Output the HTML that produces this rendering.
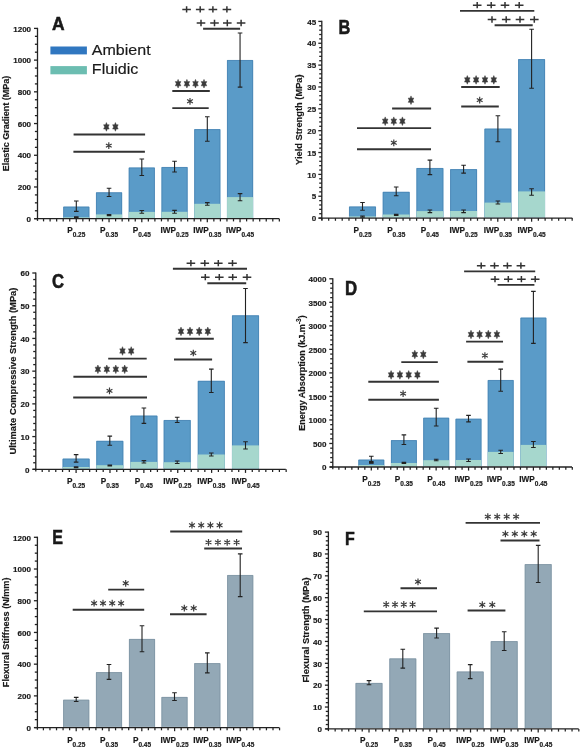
<!DOCTYPE html>
<html><head><meta charset="utf-8"><style>
html,body{margin:0;padding:0;background:#fff;}
svg{display:block;will-change:transform;}
text{font-family:"Liberation Sans",sans-serif;font-weight:bold;fill:#1a1a1a;stroke:#1a1a1a;stroke-width:0.18px;}
</style></head><body>
<svg width="582" height="750" viewBox="0 0 582 750">
<rect width="582" height="750" fill="#fff"/>
<rect x="63.3" y="206.7" width="26" height="11.3" fill="#5a9bc8"/>
<path d="M63.65 218V207.05H88.95V218" fill="none" stroke="#437fb0" stroke-width="0.7"/>
<rect x="63.3" y="217.3" width="26" height="0.7" fill="#a6d7cd"/>
<rect x="96.05" y="192.4" width="26" height="25.6" fill="#5a9bc8"/>
<path d="M96.4 218V192.75H121.7V218" fill="none" stroke="#437fb0" stroke-width="0.7"/>
<rect x="96.05" y="214.4" width="26" height="3.6" fill="#a6d7cd"/>
<rect x="128.8" y="167.6" width="26" height="50.4" fill="#5a9bc8"/>
<path d="M129.15 218V167.95H154.45V218" fill="none" stroke="#437fb0" stroke-width="0.7"/>
<rect x="128.8" y="211.9" width="26" height="6.1" fill="#a6d7cd"/>
<rect x="161.55" y="167.1" width="26" height="50.9" fill="#5a9bc8"/>
<path d="M161.9 218V167.45H187.2V218" fill="none" stroke="#437fb0" stroke-width="0.7"/>
<rect x="161.55" y="211.8" width="26" height="6.2" fill="#a6d7cd"/>
<rect x="194.3" y="129.2" width="26" height="88.8" fill="#5a9bc8"/>
<path d="M194.65 218V129.55H219.95V218" fill="none" stroke="#437fb0" stroke-width="0.7"/>
<rect x="194.3" y="203.8" width="26" height="14.2" fill="#a6d7cd"/>
<rect x="227.05" y="60.1" width="26" height="157.9" fill="#5a9bc8"/>
<path d="M227.4 218V60.45H252.7V218" fill="none" stroke="#437fb0" stroke-width="0.7"/>
<rect x="227.05" y="197.1" width="26" height="20.9" fill="#a6d7cd"/>
<path d="M76.3 201V211.4M74 201H78.6M74 211.4H78.6" stroke="#222" stroke-width="1.1" fill="none"/>
<path d="M109.05 188.3V196.5M106.75 188.3H111.35M106.75 196.5H111.35" stroke="#222" stroke-width="1.1" fill="none"/>
<path d="M141.8 159V175.5M139.5 159H144.1M139.5 175.5H144.1" stroke="#222" stroke-width="1.1" fill="none"/>
<path d="M174.55 161.2V172M172.25 161.2H176.85M172.25 172H176.85" stroke="#222" stroke-width="1.1" fill="none"/>
<path d="M207.3 116.7V141.3M205 116.7H209.6M205 141.3H209.6" stroke="#222" stroke-width="1.1" fill="none"/>
<path d="M240.05 33V87.1M237.75 33H242.35M237.75 87.1H242.35" stroke="#222" stroke-width="1.1" fill="none"/>
<path d="M76.3 216.7V217.7M74 216.7H78.6M74 217.7H78.6" stroke="#222" stroke-width="1.1" fill="none"/>
<path d="M109.05 214.6V215.6M106.75 214.6H111.35M106.75 215.6H111.35" stroke="#222" stroke-width="1.1" fill="none"/>
<path d="M141.8 210.5V213.3M139.5 210.5H144.1M139.5 213.3H144.1" stroke="#222" stroke-width="1.1" fill="none"/>
<path d="M174.55 210.4V213.3M172.25 210.4H176.85M172.25 213.3H176.85" stroke="#222" stroke-width="1.1" fill="none"/>
<path d="M207.3 202.6V205.3M205 202.6H209.6M205 205.3H209.6" stroke="#222" stroke-width="1.1" fill="none"/>
<path d="M240.05 193.6V200.7M237.75 193.6H242.35M237.75 200.7H242.35" stroke="#222" stroke-width="1.1" fill="none"/>
<line x1="37.5" y1="27.8" x2="37.5" y2="220.9" stroke="#222" stroke-width="1.3"/>
<line x1="34" y1="218.7" x2="37.5" y2="218.7" stroke="#222" stroke-width="1.3"/>
<text x="31.1" y="221.9" font-size="8.05" text-anchor="end">0</text>
<line x1="34.9" y1="210.77" x2="37.5" y2="210.77" stroke="#222" stroke-width="1.3"/>
<line x1="34.9" y1="202.84" x2="37.5" y2="202.84" stroke="#222" stroke-width="1.3"/>
<line x1="34.9" y1="194.91" x2="37.5" y2="194.91" stroke="#222" stroke-width="1.3"/>
<line x1="34" y1="186.98" x2="37.5" y2="186.98" stroke="#222" stroke-width="1.3"/>
<text x="31.1" y="190.18" font-size="8.05" text-anchor="end">200</text>
<line x1="34.9" y1="179.05" x2="37.5" y2="179.05" stroke="#222" stroke-width="1.3"/>
<line x1="34.9" y1="171.12" x2="37.5" y2="171.12" stroke="#222" stroke-width="1.3"/>
<line x1="34.9" y1="163.2" x2="37.5" y2="163.2" stroke="#222" stroke-width="1.3"/>
<line x1="34" y1="155.27" x2="37.5" y2="155.27" stroke="#222" stroke-width="1.3"/>
<text x="31.1" y="158.47" font-size="8.05" text-anchor="end">400</text>
<line x1="34.9" y1="147.34" x2="37.5" y2="147.34" stroke="#222" stroke-width="1.3"/>
<line x1="34.9" y1="139.41" x2="37.5" y2="139.41" stroke="#222" stroke-width="1.3"/>
<line x1="34.9" y1="131.48" x2="37.5" y2="131.48" stroke="#222" stroke-width="1.3"/>
<line x1="34" y1="123.55" x2="37.5" y2="123.55" stroke="#222" stroke-width="1.3"/>
<text x="31.1" y="126.75" font-size="8.05" text-anchor="end">600</text>
<line x1="34.9" y1="115.62" x2="37.5" y2="115.62" stroke="#222" stroke-width="1.3"/>
<line x1="34.9" y1="107.69" x2="37.5" y2="107.69" stroke="#222" stroke-width="1.3"/>
<line x1="34.9" y1="99.76" x2="37.5" y2="99.76" stroke="#222" stroke-width="1.3"/>
<line x1="34" y1="91.83" x2="37.5" y2="91.83" stroke="#222" stroke-width="1.3"/>
<text x="31.1" y="95.03" font-size="8.05" text-anchor="end">800</text>
<line x1="34.9" y1="83.9" x2="37.5" y2="83.9" stroke="#222" stroke-width="1.3"/>
<line x1="34.9" y1="75.98" x2="37.5" y2="75.98" stroke="#222" stroke-width="1.3"/>
<line x1="34.9" y1="68.05" x2="37.5" y2="68.05" stroke="#222" stroke-width="1.3"/>
<line x1="34" y1="60.12" x2="37.5" y2="60.12" stroke="#222" stroke-width="1.3"/>
<text x="31.1" y="63.32" font-size="8.05" text-anchor="end">1000</text>
<line x1="34.9" y1="52.19" x2="37.5" y2="52.19" stroke="#222" stroke-width="1.3"/>
<line x1="34.9" y1="44.26" x2="37.5" y2="44.26" stroke="#222" stroke-width="1.3"/>
<line x1="34.9" y1="36.33" x2="37.5" y2="36.33" stroke="#222" stroke-width="1.3"/>
<line x1="34" y1="28.4" x2="37.5" y2="28.4" stroke="#222" stroke-width="1.3"/>
<text x="31.1" y="31.6" font-size="8.05" text-anchor="end">1200</text>
<line x1="34.5" y1="218.7" x2="279.3" y2="218.7" stroke="#222" stroke-width="1.3"/>
<line x1="43.55" y1="218.7" x2="43.55" y2="221.4" stroke="#222" stroke-width="1.25"/>
<line x1="50.1" y1="218.7" x2="50.1" y2="221.4" stroke="#222" stroke-width="1.25"/>
<line x1="56.65" y1="218.7" x2="56.65" y2="221.4" stroke="#222" stroke-width="1.25"/>
<line x1="63.2" y1="218.7" x2="63.2" y2="221.4" stroke="#222" stroke-width="1.25"/>
<line x1="69.75" y1="218.7" x2="69.75" y2="221.4" stroke="#222" stroke-width="1.25"/>
<line x1="76.3" y1="218.7" x2="76.3" y2="222.3" stroke="#222" stroke-width="1.25"/>
<line x1="82.85" y1="218.7" x2="82.85" y2="221.4" stroke="#222" stroke-width="1.25"/>
<line x1="89.4" y1="218.7" x2="89.4" y2="221.4" stroke="#222" stroke-width="1.25"/>
<line x1="95.95" y1="218.7" x2="95.95" y2="221.4" stroke="#222" stroke-width="1.25"/>
<line x1="102.5" y1="218.7" x2="102.5" y2="221.4" stroke="#222" stroke-width="1.25"/>
<line x1="109.05" y1="218.7" x2="109.05" y2="222.3" stroke="#222" stroke-width="1.25"/>
<line x1="115.6" y1="218.7" x2="115.6" y2="221.4" stroke="#222" stroke-width="1.25"/>
<line x1="122.15" y1="218.7" x2="122.15" y2="221.4" stroke="#222" stroke-width="1.25"/>
<line x1="128.7" y1="218.7" x2="128.7" y2="221.4" stroke="#222" stroke-width="1.25"/>
<line x1="135.25" y1="218.7" x2="135.25" y2="221.4" stroke="#222" stroke-width="1.25"/>
<line x1="141.8" y1="218.7" x2="141.8" y2="222.3" stroke="#222" stroke-width="1.25"/>
<line x1="148.35" y1="218.7" x2="148.35" y2="221.4" stroke="#222" stroke-width="1.25"/>
<line x1="154.9" y1="218.7" x2="154.9" y2="221.4" stroke="#222" stroke-width="1.25"/>
<line x1="161.45" y1="218.7" x2="161.45" y2="221.4" stroke="#222" stroke-width="1.25"/>
<line x1="168" y1="218.7" x2="168" y2="221.4" stroke="#222" stroke-width="1.25"/>
<line x1="174.55" y1="218.7" x2="174.55" y2="222.3" stroke="#222" stroke-width="1.25"/>
<line x1="181.1" y1="218.7" x2="181.1" y2="221.4" stroke="#222" stroke-width="1.25"/>
<line x1="187.65" y1="218.7" x2="187.65" y2="221.4" stroke="#222" stroke-width="1.25"/>
<line x1="194.2" y1="218.7" x2="194.2" y2="221.4" stroke="#222" stroke-width="1.25"/>
<line x1="200.75" y1="218.7" x2="200.75" y2="221.4" stroke="#222" stroke-width="1.25"/>
<line x1="207.3" y1="218.7" x2="207.3" y2="222.3" stroke="#222" stroke-width="1.25"/>
<line x1="213.85" y1="218.7" x2="213.85" y2="221.4" stroke="#222" stroke-width="1.25"/>
<line x1="220.4" y1="218.7" x2="220.4" y2="221.4" stroke="#222" stroke-width="1.25"/>
<line x1="226.95" y1="218.7" x2="226.95" y2="221.4" stroke="#222" stroke-width="1.25"/>
<line x1="233.5" y1="218.7" x2="233.5" y2="221.4" stroke="#222" stroke-width="1.25"/>
<line x1="240.05" y1="218.7" x2="240.05" y2="222.3" stroke="#222" stroke-width="1.25"/>
<line x1="246.6" y1="218.7" x2="246.6" y2="221.4" stroke="#222" stroke-width="1.25"/>
<line x1="253.15" y1="218.7" x2="253.15" y2="221.4" stroke="#222" stroke-width="1.25"/>
<line x1="259.7" y1="218.7" x2="259.7" y2="221.4" stroke="#222" stroke-width="1.25"/>
<line x1="266.25" y1="218.7" x2="266.25" y2="221.4" stroke="#222" stroke-width="1.25"/>
<line x1="272.8" y1="218.7" x2="272.8" y2="221.4" stroke="#222" stroke-width="1.25"/>
<line x1="279.35" y1="218.7" x2="279.35" y2="221.4" stroke="#222" stroke-width="1.25"/>
<text x="76.3" y="233.3" font-size="8.2" text-anchor="middle">P<tspan font-size="6.5" dy="4">0.25</tspan></text>
<text x="109.05" y="233.3" font-size="8.2" text-anchor="middle">P<tspan font-size="6.5" dy="4">0.35</tspan></text>
<text x="141.8" y="233.3" font-size="8.2" text-anchor="middle">P<tspan font-size="6.5" dy="4">0.45</tspan></text>
<text x="174.55" y="233.3" font-size="8.2" text-anchor="middle">IWP<tspan font-size="6.5" dy="4">0.25</tspan></text>
<text x="207.3" y="233.3" font-size="8.2" text-anchor="middle">IWP<tspan font-size="6.5" dy="4">0.35</tspan></text>
<text x="240.05" y="233.3" font-size="8.2" text-anchor="middle">IWP<tspan font-size="6.5" dy="4">0.45</tspan></text>
<text transform="translate(9.2 123.5) rotate(-90)" font-size="9.0" text-anchor="middle">Elastic Gradient (MPa)</text>
<text transform="translate(52.11 29.55) scale(0.8718 0.9520)" font-size="20.0" style="stroke:#111;stroke-width:0.55px">A</text>
<rect x="50.4" y="46.5" width="36.5" height="7.9" fill="#3077c0"/>
<rect x="50.4" y="66.1" width="36.5" height="8.2" fill="#6cbdb1"/>
<text x="91.8" y="55" font-size="15.2" textLength="58.8" lengthAdjust="spacingAndGlyphs" style="font-weight:normal">Ambient</text>
<text x="91.8" y="74.3" font-size="15.2" textLength="46.5" lengthAdjust="spacingAndGlyphs" style="font-weight:normal">Fluidic</text>
<line x1="73.6" y1="134.5" x2="145.1" y2="134.5" stroke="#333" stroke-width="1.9" stroke-linecap="butt"/>
<polygon points="106.4,122.6 105.52,124.85 103.63,124.75 104.64,126.9 103.63,129.05 105.52,128.95 106.4,131.2 107.28,128.95 109.17,129.05 108.16,126.9 109.17,124.75 107.28,124.85" fill="#3a3a3a" stroke="#3a3a3a" stroke-width="0.5" stroke-linejoin="round"/>
<polygon points="115.4,122.6 114.52,124.85 112.63,124.75 113.64,126.9 112.63,129.05 114.52,128.95 115.4,131.2 116.28,128.95 118.17,129.05 117.16,126.9 118.17,124.75 116.28,124.85" fill="#3a3a3a" stroke="#3a3a3a" stroke-width="0.5" stroke-linejoin="round"/>
<line x1="73.4" y1="151.7" x2="144.9" y2="151.7" stroke="#333" stroke-width="1.9" stroke-linecap="butt"/>
<path d="M108.8 142.25L108.8 148.95M105.9 143.92L111.7 147.28M105.9 147.28L111.7 143.92" stroke="#3a3a3a" stroke-width="1.15" stroke-linecap="butt"/>
<line x1="172.3" y1="91" x2="209.8" y2="91" stroke="#333" stroke-width="1.9" stroke-linecap="butt"/>
<polygon points="178.1,79.4 177.22,81.65 175.33,81.55 176.34,83.7 175.33,85.85 177.22,85.75 178.1,88 178.98,85.75 180.87,85.85 179.86,83.7 180.87,81.55 178.98,81.65" fill="#3a3a3a" stroke="#3a3a3a" stroke-width="0.5" stroke-linejoin="round"/>
<polygon points="186.9,79.4 186.02,81.65 184.13,81.55 185.14,83.7 184.13,85.85 186.02,85.75 186.9,88 187.78,85.75 189.67,85.85 188.66,83.7 189.67,81.55 187.78,81.65" fill="#3a3a3a" stroke="#3a3a3a" stroke-width="0.5" stroke-linejoin="round"/>
<polygon points="195.5,79.4 194.62,81.65 192.73,81.55 193.74,83.7 192.73,85.85 194.62,85.75 195.5,88 196.38,85.75 198.27,85.85 197.26,83.7 198.27,81.55 196.38,81.65" fill="#3a3a3a" stroke="#3a3a3a" stroke-width="0.5" stroke-linejoin="round"/>
<polygon points="204,79.4 203.12,81.65 201.23,81.55 202.24,83.7 201.23,85.85 203.12,85.75 204,88 204.88,85.75 206.77,85.85 205.76,83.7 206.77,81.55 204.88,81.65" fill="#3a3a3a" stroke="#3a3a3a" stroke-width="0.5" stroke-linejoin="round"/>
<line x1="172.3" y1="108.1" x2="208.7" y2="108.1" stroke="#333" stroke-width="1.9" stroke-linecap="butt"/>
<path d="M190 97.95L190 104.65M187.1 99.62L192.9 102.97M187.1 102.97L192.9 99.62" stroke="#3a3a3a" stroke-width="1.15" stroke-linecap="butt"/>
<path d="M182.3 9.4H190.9M186.6 6.25V12.55" stroke="#333" stroke-width="1.5"/>
<path d="M195.9 9.4H204.5M200.2 6.25V12.55" stroke="#333" stroke-width="1.5"/>
<path d="M208.6 9.4H217.2M212.9 6.25V12.55" stroke="#333" stroke-width="1.5"/>
<path d="M222.6 9.4H231.2M226.9 6.25V12.55" stroke="#333" stroke-width="1.5"/>
<path d="M196.7 23H205.3M201 19.85V26.15" stroke="#333" stroke-width="1.5"/>
<path d="M210.2 23H218.8M214.5 19.85V26.15" stroke="#333" stroke-width="1.5"/>
<path d="M223 23H231.6M227.3 19.85V26.15" stroke="#333" stroke-width="1.5"/>
<path d="M236.8 23H245.4M241.1 19.85V26.15" stroke="#333" stroke-width="1.5"/>
<line x1="203.1" y1="28.7" x2="240.1" y2="28.7" stroke="#333" stroke-width="1.9" stroke-linecap="butt"/>
<rect x="349.1" y="206.6" width="26.8" height="10.8" fill="#5a9bc8"/>
<path d="M349.45 217.4V206.95H375.55V217.4" fill="none" stroke="#437fb0" stroke-width="0.7"/>
<rect x="349.1" y="216.4" width="26.8" height="1" fill="#a6d7cd"/>
<rect x="382.8" y="191.9" width="26.8" height="25.5" fill="#5a9bc8"/>
<path d="M383.15 217.4V192.25H409.25V217.4" fill="none" stroke="#437fb0" stroke-width="0.7"/>
<rect x="382.8" y="214.5" width="26.8" height="2.9" fill="#a6d7cd"/>
<rect x="416.5" y="168.1" width="26.8" height="49.3" fill="#5a9bc8"/>
<path d="M416.85 217.4V168.45H442.95V217.4" fill="none" stroke="#437fb0" stroke-width="0.7"/>
<rect x="416.5" y="211.1" width="26.8" height="6.3" fill="#a6d7cd"/>
<rect x="450.2" y="169.2" width="26.8" height="48.2" fill="#5a9bc8"/>
<path d="M450.55 217.4V169.55H476.65V217.4" fill="none" stroke="#437fb0" stroke-width="0.7"/>
<rect x="450.2" y="211" width="26.8" height="6.4" fill="#a6d7cd"/>
<rect x="484.5" y="128.7" width="26.8" height="88.7" fill="#5a9bc8"/>
<path d="M484.85 217.4V129.05H510.95V217.4" fill="none" stroke="#437fb0" stroke-width="0.7"/>
<rect x="484.5" y="202.6" width="26.8" height="14.8" fill="#a6d7cd"/>
<rect x="518.2" y="59.2" width="26.8" height="158.2" fill="#5a9bc8"/>
<path d="M518.55 217.4V59.55H544.65V217.4" fill="none" stroke="#437fb0" stroke-width="0.7"/>
<rect x="518.2" y="191.4" width="26.8" height="26" fill="#a6d7cd"/>
<path d="M362.5 202.5V210.2M360.2 202.5H364.8M360.2 210.2H364.8" stroke="#222" stroke-width="1.1" fill="none"/>
<path d="M396.2 187V195.7M393.9 187H398.5M393.9 195.7H398.5" stroke="#222" stroke-width="1.1" fill="none"/>
<path d="M429.9 160.1V174.6M427.6 160.1H432.2M427.6 174.6H432.2" stroke="#222" stroke-width="1.1" fill="none"/>
<path d="M463.6 165.3V173.1M461.3 165.3H465.9M461.3 173.1H465.9" stroke="#222" stroke-width="1.1" fill="none"/>
<path d="M497.9 115.7V141.8M495.6 115.7H500.2M495.6 141.8H500.2" stroke="#222" stroke-width="1.1" fill="none"/>
<path d="M531.6 29.3V88.2M529.3 29.3H533.9M529.3 88.2H533.9" stroke="#222" stroke-width="1.1" fill="none"/>
<path d="M362.5 216V217.3M360.2 216H364.8M360.2 217.3H364.8" stroke="#222" stroke-width="1.1" fill="none"/>
<path d="M396.2 214.4V215.4M393.9 214.4H398.5M393.9 215.4H398.5" stroke="#222" stroke-width="1.1" fill="none"/>
<path d="M429.9 210V212.6M427.6 210H432.2M427.6 212.6H432.2" stroke="#222" stroke-width="1.1" fill="none"/>
<path d="M463.6 210V212.6M461.3 210H465.9M461.3 212.6H465.9" stroke="#222" stroke-width="1.1" fill="none"/>
<path d="M497.9 201V204M495.6 201H500.2M495.6 204H500.2" stroke="#222" stroke-width="1.1" fill="none"/>
<path d="M531.6 188.8V195.3M529.3 188.8H533.9M529.3 195.3H533.9" stroke="#222" stroke-width="1.1" fill="none"/>
<line x1="321.8" y1="20.8" x2="321.8" y2="220.3" stroke="#222" stroke-width="1.3"/>
<line x1="318.3" y1="218.1" x2="321.8" y2="218.1" stroke="#222" stroke-width="1.3"/>
<text x="316.2" y="221.3" font-size="8.05" text-anchor="end">0</text>
<line x1="319.2" y1="213.73" x2="321.8" y2="213.73" stroke="#222" stroke-width="1.3"/>
<line x1="319.2" y1="209.36" x2="321.8" y2="209.36" stroke="#222" stroke-width="1.3"/>
<line x1="319.2" y1="204.99" x2="321.8" y2="204.99" stroke="#222" stroke-width="1.3"/>
<line x1="319.2" y1="200.62" x2="321.8" y2="200.62" stroke="#222" stroke-width="1.3"/>
<line x1="318.3" y1="196.24" x2="321.8" y2="196.24" stroke="#222" stroke-width="1.3"/>
<text x="316.2" y="199.44" font-size="8.05" text-anchor="end">5</text>
<line x1="319.2" y1="191.87" x2="321.8" y2="191.87" stroke="#222" stroke-width="1.3"/>
<line x1="319.2" y1="187.5" x2="321.8" y2="187.5" stroke="#222" stroke-width="1.3"/>
<line x1="319.2" y1="183.13" x2="321.8" y2="183.13" stroke="#222" stroke-width="1.3"/>
<line x1="319.2" y1="178.76" x2="321.8" y2="178.76" stroke="#222" stroke-width="1.3"/>
<line x1="318.3" y1="174.39" x2="321.8" y2="174.39" stroke="#222" stroke-width="1.3"/>
<text x="316.2" y="177.59" font-size="8.05" text-anchor="end">10</text>
<line x1="319.2" y1="170.02" x2="321.8" y2="170.02" stroke="#222" stroke-width="1.3"/>
<line x1="319.2" y1="165.65" x2="321.8" y2="165.65" stroke="#222" stroke-width="1.3"/>
<line x1="319.2" y1="161.28" x2="321.8" y2="161.28" stroke="#222" stroke-width="1.3"/>
<line x1="319.2" y1="156.9" x2="321.8" y2="156.9" stroke="#222" stroke-width="1.3"/>
<line x1="318.3" y1="152.53" x2="321.8" y2="152.53" stroke="#222" stroke-width="1.3"/>
<text x="316.2" y="155.73" font-size="8.05" text-anchor="end">15</text>
<line x1="319.2" y1="148.16" x2="321.8" y2="148.16" stroke="#222" stroke-width="1.3"/>
<line x1="319.2" y1="143.79" x2="321.8" y2="143.79" stroke="#222" stroke-width="1.3"/>
<line x1="319.2" y1="139.42" x2="321.8" y2="139.42" stroke="#222" stroke-width="1.3"/>
<line x1="319.2" y1="135.05" x2="321.8" y2="135.05" stroke="#222" stroke-width="1.3"/>
<line x1="318.3" y1="130.68" x2="321.8" y2="130.68" stroke="#222" stroke-width="1.3"/>
<text x="316.2" y="133.88" font-size="8.05" text-anchor="end">20</text>
<line x1="319.2" y1="126.31" x2="321.8" y2="126.31" stroke="#222" stroke-width="1.3"/>
<line x1="319.2" y1="121.94" x2="321.8" y2="121.94" stroke="#222" stroke-width="1.3"/>
<line x1="319.2" y1="117.56" x2="321.8" y2="117.56" stroke="#222" stroke-width="1.3"/>
<line x1="319.2" y1="113.19" x2="321.8" y2="113.19" stroke="#222" stroke-width="1.3"/>
<line x1="318.3" y1="108.82" x2="321.8" y2="108.82" stroke="#222" stroke-width="1.3"/>
<text x="316.2" y="112.02" font-size="8.05" text-anchor="end">25</text>
<line x1="319.2" y1="104.45" x2="321.8" y2="104.45" stroke="#222" stroke-width="1.3"/>
<line x1="319.2" y1="100.08" x2="321.8" y2="100.08" stroke="#222" stroke-width="1.3"/>
<line x1="319.2" y1="95.71" x2="321.8" y2="95.71" stroke="#222" stroke-width="1.3"/>
<line x1="319.2" y1="91.34" x2="321.8" y2="91.34" stroke="#222" stroke-width="1.3"/>
<line x1="318.3" y1="86.97" x2="321.8" y2="86.97" stroke="#222" stroke-width="1.3"/>
<text x="316.2" y="90.17" font-size="8.05" text-anchor="end">30</text>
<line x1="319.2" y1="82.6" x2="321.8" y2="82.6" stroke="#222" stroke-width="1.3"/>
<line x1="319.2" y1="78.22" x2="321.8" y2="78.22" stroke="#222" stroke-width="1.3"/>
<line x1="319.2" y1="73.85" x2="321.8" y2="73.85" stroke="#222" stroke-width="1.3"/>
<line x1="319.2" y1="69.48" x2="321.8" y2="69.48" stroke="#222" stroke-width="1.3"/>
<line x1="318.3" y1="65.11" x2="321.8" y2="65.11" stroke="#222" stroke-width="1.3"/>
<text x="316.2" y="68.31" font-size="8.05" text-anchor="end">35</text>
<line x1="319.2" y1="60.74" x2="321.8" y2="60.74" stroke="#222" stroke-width="1.3"/>
<line x1="319.2" y1="56.37" x2="321.8" y2="56.37" stroke="#222" stroke-width="1.3"/>
<line x1="319.2" y1="52" x2="321.8" y2="52" stroke="#222" stroke-width="1.3"/>
<line x1="319.2" y1="47.63" x2="321.8" y2="47.63" stroke="#222" stroke-width="1.3"/>
<line x1="318.3" y1="43.26" x2="321.8" y2="43.26" stroke="#222" stroke-width="1.3"/>
<text x="316.2" y="46.46" font-size="8.05" text-anchor="end">40</text>
<line x1="319.2" y1="38.88" x2="321.8" y2="38.88" stroke="#222" stroke-width="1.3"/>
<line x1="319.2" y1="34.51" x2="321.8" y2="34.51" stroke="#222" stroke-width="1.3"/>
<line x1="319.2" y1="30.14" x2="321.8" y2="30.14" stroke="#222" stroke-width="1.3"/>
<line x1="319.2" y1="25.77" x2="321.8" y2="25.77" stroke="#222" stroke-width="1.3"/>
<line x1="318.3" y1="21.4" x2="321.8" y2="21.4" stroke="#222" stroke-width="1.3"/>
<text x="316.2" y="24.6" font-size="8.05" text-anchor="end">45</text>
<line x1="318.8" y1="218.1" x2="572.3" y2="218.1" stroke="#222" stroke-width="1.3"/>
<line x1="321.92" y1="218.1" x2="321.92" y2="220.8" stroke="#222" stroke-width="1.25"/>
<line x1="328.68" y1="218.1" x2="328.68" y2="220.8" stroke="#222" stroke-width="1.25"/>
<line x1="335.44" y1="218.1" x2="335.44" y2="220.8" stroke="#222" stroke-width="1.25"/>
<line x1="342.21" y1="218.1" x2="342.21" y2="220.8" stroke="#222" stroke-width="1.25"/>
<line x1="348.97" y1="218.1" x2="348.97" y2="220.8" stroke="#222" stroke-width="1.25"/>
<line x1="355.74" y1="218.1" x2="355.74" y2="220.8" stroke="#222" stroke-width="1.25"/>
<line x1="362.5" y1="218.1" x2="362.5" y2="221.7" stroke="#222" stroke-width="1.25"/>
<line x1="369.26" y1="218.1" x2="369.26" y2="220.8" stroke="#222" stroke-width="1.25"/>
<line x1="376.03" y1="218.1" x2="376.03" y2="220.8" stroke="#222" stroke-width="1.25"/>
<line x1="382.79" y1="218.1" x2="382.79" y2="220.8" stroke="#222" stroke-width="1.25"/>
<line x1="389.56" y1="218.1" x2="389.56" y2="220.8" stroke="#222" stroke-width="1.25"/>
<line x1="396.32" y1="218.1" x2="396.32" y2="221.7" stroke="#222" stroke-width="1.25"/>
<line x1="403.08" y1="218.1" x2="403.08" y2="220.8" stroke="#222" stroke-width="1.25"/>
<line x1="409.85" y1="218.1" x2="409.85" y2="220.8" stroke="#222" stroke-width="1.25"/>
<line x1="416.61" y1="218.1" x2="416.61" y2="220.8" stroke="#222" stroke-width="1.25"/>
<line x1="423.38" y1="218.1" x2="423.38" y2="220.8" stroke="#222" stroke-width="1.25"/>
<line x1="430.14" y1="218.1" x2="430.14" y2="221.7" stroke="#222" stroke-width="1.25"/>
<line x1="436.9" y1="218.1" x2="436.9" y2="220.8" stroke="#222" stroke-width="1.25"/>
<line x1="443.67" y1="218.1" x2="443.67" y2="220.8" stroke="#222" stroke-width="1.25"/>
<line x1="450.43" y1="218.1" x2="450.43" y2="220.8" stroke="#222" stroke-width="1.25"/>
<line x1="457.2" y1="218.1" x2="457.2" y2="220.8" stroke="#222" stroke-width="1.25"/>
<line x1="463.96" y1="218.1" x2="463.96" y2="221.7" stroke="#222" stroke-width="1.25"/>
<line x1="470.72" y1="218.1" x2="470.72" y2="220.8" stroke="#222" stroke-width="1.25"/>
<line x1="477.49" y1="218.1" x2="477.49" y2="220.8" stroke="#222" stroke-width="1.25"/>
<line x1="484.25" y1="218.1" x2="484.25" y2="220.8" stroke="#222" stroke-width="1.25"/>
<line x1="491.02" y1="218.1" x2="491.02" y2="220.8" stroke="#222" stroke-width="1.25"/>
<line x1="497.78" y1="218.1" x2="497.78" y2="221.7" stroke="#222" stroke-width="1.25"/>
<line x1="504.54" y1="218.1" x2="504.54" y2="220.8" stroke="#222" stroke-width="1.25"/>
<line x1="511.31" y1="218.1" x2="511.31" y2="220.8" stroke="#222" stroke-width="1.25"/>
<line x1="518.07" y1="218.1" x2="518.07" y2="220.8" stroke="#222" stroke-width="1.25"/>
<line x1="524.84" y1="218.1" x2="524.84" y2="220.8" stroke="#222" stroke-width="1.25"/>
<line x1="531.6" y1="218.1" x2="531.6" y2="221.7" stroke="#222" stroke-width="1.25"/>
<line x1="538.36" y1="218.1" x2="538.36" y2="220.8" stroke="#222" stroke-width="1.25"/>
<line x1="545.13" y1="218.1" x2="545.13" y2="220.8" stroke="#222" stroke-width="1.25"/>
<line x1="551.89" y1="218.1" x2="551.89" y2="220.8" stroke="#222" stroke-width="1.25"/>
<line x1="558.66" y1="218.1" x2="558.66" y2="220.8" stroke="#222" stroke-width="1.25"/>
<line x1="565.42" y1="218.1" x2="565.42" y2="220.8" stroke="#222" stroke-width="1.25"/>
<line x1="572.18" y1="218.1" x2="572.18" y2="220.8" stroke="#222" stroke-width="1.25"/>
<text x="362.5" y="233" font-size="8.2" text-anchor="middle">P<tspan font-size="6.5" dy="4">0.25</tspan></text>
<text x="396.2" y="233" font-size="8.2" text-anchor="middle">P<tspan font-size="6.5" dy="4">0.35</tspan></text>
<text x="429.9" y="233" font-size="8.2" text-anchor="middle">P<tspan font-size="6.5" dy="4">0.45</tspan></text>
<text x="463.6" y="233" font-size="8.2" text-anchor="middle">IWP<tspan font-size="6.5" dy="4">0.25</tspan></text>
<text x="497.9" y="233" font-size="8.2" text-anchor="middle">IWP<tspan font-size="6.5" dy="4">0.35</tspan></text>
<text x="531.6" y="233" font-size="8.2" text-anchor="middle">IWP<tspan font-size="6.5" dy="4">0.45</tspan></text>
<text transform="translate(301.7 119.65) rotate(-90)" font-size="9.3" text-anchor="middle">Yield Strength (MPa)</text>
<text transform="translate(338.45 34.05) scale(0.8197 0.9884)" font-size="20.0" style="stroke:#111;stroke-width:0.55px">B</text>
<line x1="392.1" y1="108.5" x2="431.1" y2="108.5" stroke="#333" stroke-width="1.9" stroke-linecap="butt"/>
<polygon points="411,95.9 410.12,98.15 408.23,98.05 409.24,100.2 408.23,102.35 410.12,102.25 411,104.5 411.88,102.25 413.77,102.35 412.76,100.2 413.77,98.05 411.88,98.15" fill="#3a3a3a" stroke="#3a3a3a" stroke-width="0.5" stroke-linejoin="round"/>
<line x1="357" y1="128.1" x2="431.1" y2="128.1" stroke="#333" stroke-width="1.9" stroke-linecap="butt"/>
<polygon points="385.2,116.9 384.32,119.15 382.43,119.05 383.44,121.2 382.43,123.35 384.32,123.25 385.2,125.5 386.08,123.25 387.97,123.35 386.96,121.2 387.97,119.05 386.08,119.15" fill="#3a3a3a" stroke="#3a3a3a" stroke-width="0.5" stroke-linejoin="round"/>
<polygon points="393.8,116.9 392.92,119.15 391.03,119.05 392.04,121.2 391.03,123.35 392.92,123.25 393.8,125.5 394.68,123.25 396.57,123.35 395.56,121.2 396.57,119.05 394.68,119.15" fill="#3a3a3a" stroke="#3a3a3a" stroke-width="0.5" stroke-linejoin="round"/>
<polygon points="402.4,116.9 401.52,119.15 399.63,119.05 400.64,121.2 399.63,123.35 401.52,123.25 402.4,125.5 403.28,123.25 405.17,123.35 404.16,121.2 405.17,119.05 403.28,119.15" fill="#3a3a3a" stroke="#3a3a3a" stroke-width="0.5" stroke-linejoin="round"/>
<line x1="357" y1="149.3" x2="431" y2="149.3" stroke="#333" stroke-width="1.9" stroke-linecap="butt"/>
<path d="M393.8 139.45L393.8 146.15M390.9 141.12L396.7 144.48M390.9 144.48L396.7 141.12" stroke="#3a3a3a" stroke-width="1.15" stroke-linecap="butt"/>
<line x1="461.2" y1="87" x2="499.7" y2="87" stroke="#333" stroke-width="1.9" stroke-linecap="butt"/>
<polygon points="467.3,75.6 466.42,77.85 464.53,77.75 465.54,79.9 464.53,82.05 466.42,81.95 467.3,84.2 468.18,81.95 470.07,82.05 469.06,79.9 470.07,77.75 468.18,77.85" fill="#3a3a3a" stroke="#3a3a3a" stroke-width="0.5" stroke-linejoin="round"/>
<polygon points="476.1,75.6 475.22,77.85 473.33,77.75 474.34,79.9 473.33,82.05 475.22,81.95 476.1,84.2 476.98,81.95 478.87,82.05 477.86,79.9 478.87,77.75 476.98,77.85" fill="#3a3a3a" stroke="#3a3a3a" stroke-width="0.5" stroke-linejoin="round"/>
<polygon points="485,75.6 484.12,77.85 482.23,77.75 483.24,79.9 482.23,82.05 484.12,81.95 485,84.2 485.88,81.95 487.77,82.05 486.76,79.9 487.77,77.75 485.88,77.85" fill="#3a3a3a" stroke="#3a3a3a" stroke-width="0.5" stroke-linejoin="round"/>
<polygon points="493.8,75.6 492.92,77.85 491.03,77.75 492.04,79.9 491.03,82.05 492.92,81.95 493.8,84.2 494.68,81.95 496.57,82.05 495.56,79.9 496.57,77.75 494.68,77.85" fill="#3a3a3a" stroke="#3a3a3a" stroke-width="0.5" stroke-linejoin="round"/>
<line x1="461.2" y1="106.5" x2="498.8" y2="106.5" stroke="#333" stroke-width="1.9" stroke-linecap="butt"/>
<path d="M479.7 96.75L479.7 103.45M476.8 98.42L482.6 101.77M476.8 101.77L482.6 98.42" stroke="#3a3a3a" stroke-width="1.15" stroke-linecap="butt"/>
<path d="M472.9 5.2H481.5M477.2 2.05V8.35" stroke="#333" stroke-width="1.5"/>
<path d="M486.9 5.2H495.5M491.2 2.05V8.35" stroke="#333" stroke-width="1.5"/>
<path d="M500.7 5.2H509.3M505 2.05V8.35" stroke="#333" stroke-width="1.5"/>
<path d="M514.9 5.2H523.5M519.2 2.05V8.35" stroke="#333" stroke-width="1.5"/>
<line x1="460" y1="10.9" x2="534.3" y2="10.9" stroke="#333" stroke-width="1.9" stroke-linecap="butt"/>
<path d="M487.7 19.5H496.3M492 16.35V22.65" stroke="#333" stroke-width="1.5"/>
<path d="M501.9 19.5H510.5M506.2 16.35V22.65" stroke="#333" stroke-width="1.5"/>
<path d="M515.7 19.5H524.3M520 16.35V22.65" stroke="#333" stroke-width="1.5"/>
<path d="M530 19.5H538.6M534.3 16.35V22.65" stroke="#333" stroke-width="1.5"/>
<line x1="494.6" y1="25.2" x2="532.7" y2="25.2" stroke="#333" stroke-width="1.9" stroke-linecap="butt"/>
<rect x="62.65" y="458.7" width="26.9" height="9.9" fill="#5a9bc8"/>
<path d="M63 468.6V459.05H89.2V468.6" fill="none" stroke="#437fb0" stroke-width="0.7"/>
<rect x="62.65" y="467" width="26.9" height="1.6" fill="#a6d7cd"/>
<rect x="96.35" y="440.9" width="26.9" height="27.7" fill="#5a9bc8"/>
<path d="M96.7 468.6V441.25H122.9V468.6" fill="none" stroke="#437fb0" stroke-width="0.7"/>
<rect x="96.35" y="465.2" width="26.9" height="3.4" fill="#a6d7cd"/>
<rect x="130.45" y="415.7" width="26.9" height="52.9" fill="#5a9bc8"/>
<path d="M130.8 468.6V416.05H157V468.6" fill="none" stroke="#437fb0" stroke-width="0.7"/>
<rect x="130.45" y="461.9" width="26.9" height="6.7" fill="#a6d7cd"/>
<rect x="163.75" y="420.1" width="26.9" height="48.5" fill="#5a9bc8"/>
<path d="M164.1 468.6V420.45H190.3V468.6" fill="none" stroke="#437fb0" stroke-width="0.7"/>
<rect x="163.75" y="462.2" width="26.9" height="6.4" fill="#a6d7cd"/>
<rect x="197.85" y="380.9" width="26.9" height="87.7" fill="#5a9bc8"/>
<path d="M198.2 468.6V381.25H224.4V468.6" fill="none" stroke="#437fb0" stroke-width="0.7"/>
<rect x="197.85" y="454.5" width="26.9" height="14.1" fill="#a6d7cd"/>
<rect x="232.05" y="315.4" width="26.9" height="153.2" fill="#5a9bc8"/>
<path d="M232.4 468.6V315.75H258.6V468.6" fill="none" stroke="#437fb0" stroke-width="0.7"/>
<rect x="232.05" y="445.4" width="26.9" height="23.2" fill="#a6d7cd"/>
<path d="M76.1 454.6V462.1M73.8 454.6H78.4M73.8 462.1H78.4" stroke="#222" stroke-width="1.1" fill="none"/>
<path d="M109.8 436.1V445.3M107.5 436.1H112.1M107.5 445.3H112.1" stroke="#222" stroke-width="1.1" fill="none"/>
<path d="M143.9 408V423.4M141.6 408H146.2M141.6 423.4H146.2" stroke="#222" stroke-width="1.1" fill="none"/>
<path d="M177.2 417.3V422.5M174.9 417.3H179.5M174.9 422.5H179.5" stroke="#222" stroke-width="1.1" fill="none"/>
<path d="M211.3 369.1V392.5M209 369.1H213.6M209 392.5H213.6" stroke="#222" stroke-width="1.1" fill="none"/>
<path d="M245.5 288.5V342.6M243.2 288.5H247.8M243.2 342.6H247.8" stroke="#222" stroke-width="1.1" fill="none"/>
<path d="M76.1 466.8V467.8M73.8 466.8H78.4M73.8 467.8H78.4" stroke="#222" stroke-width="1.1" fill="none"/>
<path d="M109.8 465V466M107.5 465H112.1M107.5 466H112.1" stroke="#222" stroke-width="1.1" fill="none"/>
<path d="M143.9 460.6V463M141.6 460.6H146.2M141.6 463H146.2" stroke="#222" stroke-width="1.1" fill="none"/>
<path d="M177.2 461V463.5M174.9 461H179.5M174.9 463.5H179.5" stroke="#222" stroke-width="1.1" fill="none"/>
<path d="M211.3 453V456M209 453H213.6M209 456H213.6" stroke="#222" stroke-width="1.1" fill="none"/>
<path d="M245.5 441.8V449M243.2 441.8H247.8M243.2 449H247.8" stroke="#222" stroke-width="1.1" fill="none"/>
<line x1="35.8" y1="272.4" x2="35.8" y2="471.5" stroke="#222" stroke-width="1.3"/>
<line x1="32.3" y1="469.3" x2="35.8" y2="469.3" stroke="#222" stroke-width="1.3"/>
<text x="29.4" y="472.5" font-size="8.05" text-anchor="end">0</text>
<line x1="33.2" y1="462.76" x2="35.8" y2="462.76" stroke="#222" stroke-width="1.3"/>
<line x1="33.2" y1="456.21" x2="35.8" y2="456.21" stroke="#222" stroke-width="1.3"/>
<line x1="33.2" y1="449.67" x2="35.8" y2="449.67" stroke="#222" stroke-width="1.3"/>
<line x1="33.2" y1="443.13" x2="35.8" y2="443.13" stroke="#222" stroke-width="1.3"/>
<line x1="32.3" y1="436.58" x2="35.8" y2="436.58" stroke="#222" stroke-width="1.3"/>
<text x="29.4" y="439.78" font-size="8.05" text-anchor="end">10</text>
<line x1="33.2" y1="430.04" x2="35.8" y2="430.04" stroke="#222" stroke-width="1.3"/>
<line x1="33.2" y1="423.5" x2="35.8" y2="423.5" stroke="#222" stroke-width="1.3"/>
<line x1="33.2" y1="416.95" x2="35.8" y2="416.95" stroke="#222" stroke-width="1.3"/>
<line x1="33.2" y1="410.41" x2="35.8" y2="410.41" stroke="#222" stroke-width="1.3"/>
<line x1="32.3" y1="403.87" x2="35.8" y2="403.87" stroke="#222" stroke-width="1.3"/>
<text x="29.4" y="407.07" font-size="8.05" text-anchor="end">20</text>
<line x1="33.2" y1="397.32" x2="35.8" y2="397.32" stroke="#222" stroke-width="1.3"/>
<line x1="33.2" y1="390.78" x2="35.8" y2="390.78" stroke="#222" stroke-width="1.3"/>
<line x1="33.2" y1="384.24" x2="35.8" y2="384.24" stroke="#222" stroke-width="1.3"/>
<line x1="33.2" y1="377.69" x2="35.8" y2="377.69" stroke="#222" stroke-width="1.3"/>
<line x1="32.3" y1="371.15" x2="35.8" y2="371.15" stroke="#222" stroke-width="1.3"/>
<text x="29.4" y="374.35" font-size="8.05" text-anchor="end">30</text>
<line x1="33.2" y1="364.61" x2="35.8" y2="364.61" stroke="#222" stroke-width="1.3"/>
<line x1="33.2" y1="358.06" x2="35.8" y2="358.06" stroke="#222" stroke-width="1.3"/>
<line x1="33.2" y1="351.52" x2="35.8" y2="351.52" stroke="#222" stroke-width="1.3"/>
<line x1="33.2" y1="344.98" x2="35.8" y2="344.98" stroke="#222" stroke-width="1.3"/>
<line x1="32.3" y1="338.43" x2="35.8" y2="338.43" stroke="#222" stroke-width="1.3"/>
<text x="29.4" y="341.63" font-size="8.05" text-anchor="end">40</text>
<line x1="33.2" y1="331.89" x2="35.8" y2="331.89" stroke="#222" stroke-width="1.3"/>
<line x1="33.2" y1="325.35" x2="35.8" y2="325.35" stroke="#222" stroke-width="1.3"/>
<line x1="33.2" y1="318.8" x2="35.8" y2="318.8" stroke="#222" stroke-width="1.3"/>
<line x1="33.2" y1="312.26" x2="35.8" y2="312.26" stroke="#222" stroke-width="1.3"/>
<line x1="32.3" y1="305.72" x2="35.8" y2="305.72" stroke="#222" stroke-width="1.3"/>
<text x="29.4" y="308.92" font-size="8.05" text-anchor="end">50</text>
<line x1="33.2" y1="299.17" x2="35.8" y2="299.17" stroke="#222" stroke-width="1.3"/>
<line x1="33.2" y1="292.63" x2="35.8" y2="292.63" stroke="#222" stroke-width="1.3"/>
<line x1="33.2" y1="286.09" x2="35.8" y2="286.09" stroke="#222" stroke-width="1.3"/>
<line x1="33.2" y1="279.54" x2="35.8" y2="279.54" stroke="#222" stroke-width="1.3"/>
<line x1="32.3" y1="273" x2="35.8" y2="273" stroke="#222" stroke-width="1.3"/>
<text x="29.4" y="276.2" font-size="8.05" text-anchor="end">60</text>
<line x1="32.8" y1="469.3" x2="285.8" y2="469.3" stroke="#222" stroke-width="1.3"/>
<line x1="42.22" y1="469.3" x2="42.22" y2="472" stroke="#222" stroke-width="1.25"/>
<line x1="49" y1="469.3" x2="49" y2="472" stroke="#222" stroke-width="1.25"/>
<line x1="55.77" y1="469.3" x2="55.77" y2="472" stroke="#222" stroke-width="1.25"/>
<line x1="62.55" y1="469.3" x2="62.55" y2="472" stroke="#222" stroke-width="1.25"/>
<line x1="69.32" y1="469.3" x2="69.32" y2="472" stroke="#222" stroke-width="1.25"/>
<line x1="76.1" y1="469.3" x2="76.1" y2="472.9" stroke="#222" stroke-width="1.25"/>
<line x1="82.88" y1="469.3" x2="82.88" y2="472" stroke="#222" stroke-width="1.25"/>
<line x1="89.65" y1="469.3" x2="89.65" y2="472" stroke="#222" stroke-width="1.25"/>
<line x1="96.43" y1="469.3" x2="96.43" y2="472" stroke="#222" stroke-width="1.25"/>
<line x1="103.2" y1="469.3" x2="103.2" y2="472" stroke="#222" stroke-width="1.25"/>
<line x1="109.98" y1="469.3" x2="109.98" y2="472.9" stroke="#222" stroke-width="1.25"/>
<line x1="116.76" y1="469.3" x2="116.76" y2="472" stroke="#222" stroke-width="1.25"/>
<line x1="123.53" y1="469.3" x2="123.53" y2="472" stroke="#222" stroke-width="1.25"/>
<line x1="130.31" y1="469.3" x2="130.31" y2="472" stroke="#222" stroke-width="1.25"/>
<line x1="137.08" y1="469.3" x2="137.08" y2="472" stroke="#222" stroke-width="1.25"/>
<line x1="143.86" y1="469.3" x2="143.86" y2="472.9" stroke="#222" stroke-width="1.25"/>
<line x1="150.64" y1="469.3" x2="150.64" y2="472" stroke="#222" stroke-width="1.25"/>
<line x1="157.41" y1="469.3" x2="157.41" y2="472" stroke="#222" stroke-width="1.25"/>
<line x1="164.19" y1="469.3" x2="164.19" y2="472" stroke="#222" stroke-width="1.25"/>
<line x1="170.96" y1="469.3" x2="170.96" y2="472" stroke="#222" stroke-width="1.25"/>
<line x1="177.74" y1="469.3" x2="177.74" y2="472.9" stroke="#222" stroke-width="1.25"/>
<line x1="184.52" y1="469.3" x2="184.52" y2="472" stroke="#222" stroke-width="1.25"/>
<line x1="191.29" y1="469.3" x2="191.29" y2="472" stroke="#222" stroke-width="1.25"/>
<line x1="198.07" y1="469.3" x2="198.07" y2="472" stroke="#222" stroke-width="1.25"/>
<line x1="204.84" y1="469.3" x2="204.84" y2="472" stroke="#222" stroke-width="1.25"/>
<line x1="211.62" y1="469.3" x2="211.62" y2="472.9" stroke="#222" stroke-width="1.25"/>
<line x1="218.4" y1="469.3" x2="218.4" y2="472" stroke="#222" stroke-width="1.25"/>
<line x1="225.17" y1="469.3" x2="225.17" y2="472" stroke="#222" stroke-width="1.25"/>
<line x1="231.95" y1="469.3" x2="231.95" y2="472" stroke="#222" stroke-width="1.25"/>
<line x1="238.72" y1="469.3" x2="238.72" y2="472" stroke="#222" stroke-width="1.25"/>
<line x1="245.5" y1="469.3" x2="245.5" y2="472.9" stroke="#222" stroke-width="1.25"/>
<line x1="252.28" y1="469.3" x2="252.28" y2="472" stroke="#222" stroke-width="1.25"/>
<line x1="259.05" y1="469.3" x2="259.05" y2="472" stroke="#222" stroke-width="1.25"/>
<line x1="265.83" y1="469.3" x2="265.83" y2="472" stroke="#222" stroke-width="1.25"/>
<line x1="272.6" y1="469.3" x2="272.6" y2="472" stroke="#222" stroke-width="1.25"/>
<line x1="279.38" y1="469.3" x2="279.38" y2="472" stroke="#222" stroke-width="1.25"/>
<line x1="286.16" y1="469.3" x2="286.16" y2="472" stroke="#222" stroke-width="1.25"/>
<text x="76.1" y="484.1" font-size="8.2" text-anchor="middle">P<tspan font-size="6.5" dy="4">0.25</tspan></text>
<text x="109.8" y="484.1" font-size="8.2" text-anchor="middle">P<tspan font-size="6.5" dy="4">0.35</tspan></text>
<text x="143.9" y="484.1" font-size="8.2" text-anchor="middle">P<tspan font-size="6.5" dy="4">0.45</tspan></text>
<text x="177.2" y="484.1" font-size="8.2" text-anchor="middle">IWP<tspan font-size="6.5" dy="4">0.25</tspan></text>
<text x="211.3" y="484.1" font-size="8.2" text-anchor="middle">IWP<tspan font-size="6.5" dy="4">0.35</tspan></text>
<text x="245.5" y="484.1" font-size="8.2" text-anchor="middle">IWP<tspan font-size="6.5" dy="4">0.45</tspan></text>
<text transform="translate(15.6 371.05) rotate(-90)" font-size="9.33" text-anchor="middle">Ultimate Compressive Strength (MPa)</text>
<text transform="translate(52.07 287.65) scale(0.8333 1.0169)" font-size="20.0" style="stroke:#111;stroke-width:0.55px">C</text>
<line x1="108.2" y1="358.6" x2="146.7" y2="358.6" stroke="#333" stroke-width="1.9" stroke-linecap="butt"/>
<polygon points="122.5,346.7 121.62,348.95 119.73,348.85 120.74,351 119.73,353.15 121.62,353.05 122.5,355.3 123.38,353.05 125.27,353.15 124.26,351 125.27,348.85 123.38,348.95" fill="#3a3a3a" stroke="#3a3a3a" stroke-width="0.5" stroke-linejoin="round"/>
<polygon points="131.2,346.7 130.32,348.95 128.43,348.85 129.44,351 128.43,353.15 130.32,353.05 131.2,355.3 132.08,353.05 133.97,353.15 132.96,351 133.97,348.85 132.08,348.95" fill="#3a3a3a" stroke="#3a3a3a" stroke-width="0.5" stroke-linejoin="round"/>
<line x1="73.4" y1="376.8" x2="147" y2="376.8" stroke="#333" stroke-width="1.9" stroke-linecap="butt"/>
<polygon points="97.9,365 97.02,367.25 95.13,367.15 96.14,369.3 95.13,371.45 97.02,371.35 97.9,373.6 98.78,371.35 100.67,371.45 99.66,369.3 100.67,367.15 98.78,367.25" fill="#3a3a3a" stroke="#3a3a3a" stroke-width="0.5" stroke-linejoin="round"/>
<polygon points="106.8,365 105.92,367.25 104.03,367.15 105.04,369.3 104.03,371.45 105.92,371.35 106.8,373.6 107.68,371.35 109.57,371.45 108.56,369.3 109.57,367.15 107.68,367.25" fill="#3a3a3a" stroke="#3a3a3a" stroke-width="0.5" stroke-linejoin="round"/>
<polygon points="115.8,365 114.92,367.25 113.03,367.15 114.04,369.3 113.03,371.45 114.92,371.35 115.8,373.6 116.68,371.35 118.57,371.45 117.56,369.3 118.57,367.15 116.68,367.25" fill="#3a3a3a" stroke="#3a3a3a" stroke-width="0.5" stroke-linejoin="round"/>
<polygon points="124.7,365 123.82,367.25 121.93,367.15 122.94,369.3 121.93,371.45 123.82,371.35 124.7,373.6 125.58,371.35 127.47,371.45 126.46,369.3 127.47,367.15 125.58,367.25" fill="#3a3a3a" stroke="#3a3a3a" stroke-width="0.5" stroke-linejoin="round"/>
<line x1="73.2" y1="397.5" x2="147" y2="397.5" stroke="#333" stroke-width="1.9" stroke-linecap="butt"/>
<path d="M109.5 387.55L109.5 394.25M106.6 389.22L112.4 392.57M106.6 392.57L112.4 389.22" stroke="#3a3a3a" stroke-width="1.15" stroke-linecap="butt"/>
<line x1="175.6" y1="338.8" x2="213.8" y2="338.8" stroke="#333" stroke-width="1.9" stroke-linecap="butt"/>
<polygon points="181,327.1 180.12,329.35 178.23,329.25 179.24,331.4 178.23,333.55 180.12,333.45 181,335.7 181.88,333.45 183.77,333.55 182.76,331.4 183.77,329.25 181.88,329.35" fill="#3a3a3a" stroke="#3a3a3a" stroke-width="0.5" stroke-linejoin="round"/>
<polygon points="190,327.1 189.12,329.35 187.23,329.25 188.24,331.4 187.23,333.55 189.12,333.45 190,335.7 190.88,333.45 192.77,333.55 191.76,331.4 192.77,329.25 190.88,329.35" fill="#3a3a3a" stroke="#3a3a3a" stroke-width="0.5" stroke-linejoin="round"/>
<polygon points="199.2,327.1 198.32,329.35 196.43,329.25 197.44,331.4 196.43,333.55 198.32,333.45 199.2,335.7 200.08,333.45 201.97,333.55 200.96,331.4 201.97,329.25 200.08,329.35" fill="#3a3a3a" stroke="#3a3a3a" stroke-width="0.5" stroke-linejoin="round"/>
<polygon points="207.8,327.1 206.92,329.35 205.03,329.25 206.04,331.4 205.03,333.55 206.92,333.45 207.8,335.7 208.68,333.45 210.57,333.55 209.56,331.4 210.57,329.25 208.68,329.35" fill="#3a3a3a" stroke="#3a3a3a" stroke-width="0.5" stroke-linejoin="round"/>
<line x1="174" y1="359.5" x2="212.1" y2="359.5" stroke="#333" stroke-width="1.9" stroke-linecap="butt"/>
<path d="M193.3 349.65L193.3 356.35M190.4 351.32L196.2 354.68M190.4 354.68L196.2 351.32" stroke="#3a3a3a" stroke-width="1.15" stroke-linecap="butt"/>
<path d="M186.6 263.2H195.2M190.9 260.05V266.35" stroke="#333" stroke-width="1.5"/>
<path d="M200.5 263.2H209.1M204.8 260.05V266.35" stroke="#333" stroke-width="1.5"/>
<path d="M214 263.2H222.6M218.3 260.05V266.35" stroke="#333" stroke-width="1.5"/>
<path d="M228.2 263.2H236.8M232.5 260.05V266.35" stroke="#333" stroke-width="1.5"/>
<line x1="172.9" y1="268.8" x2="247" y2="268.8" stroke="#333" stroke-width="1.9" stroke-linecap="butt"/>
<path d="M201 277.2H209.6M205.3 274.05V280.35" stroke="#333" stroke-width="1.5"/>
<path d="M215 277.2H223.6M219.3 274.05V280.35" stroke="#333" stroke-width="1.5"/>
<path d="M228.4 277.2H237M232.7 274.05V280.35" stroke="#333" stroke-width="1.5"/>
<path d="M242.7 277.2H251.3M247 274.05V280.35" stroke="#333" stroke-width="1.5"/>
<line x1="207.3" y1="283.2" x2="246.2" y2="283.2" stroke="#333" stroke-width="1.9" stroke-linecap="butt"/>
<rect x="358.4" y="459.7" width="25.8" height="6.6" fill="#5a9bc8"/>
<path d="M358.75 466.3V460.05H383.85V466.3" fill="none" stroke="#437fb0" stroke-width="0.7"/>
<rect x="358.4" y="465" width="25.8" height="1.3" fill="#a6d7cd"/>
<rect x="391" y="440.2" width="25.8" height="26.1" fill="#5a9bc8"/>
<path d="M391.35 466.3V440.55H416.45V466.3" fill="none" stroke="#437fb0" stroke-width="0.7"/>
<rect x="391" y="463" width="25.8" height="3.3" fill="#a6d7cd"/>
<rect x="423.3" y="417.8" width="25.8" height="48.5" fill="#5a9bc8"/>
<path d="M423.65 466.3V418.15H448.75V466.3" fill="none" stroke="#437fb0" stroke-width="0.7"/>
<rect x="423.3" y="460.2" width="25.8" height="6.1" fill="#a6d7cd"/>
<rect x="455.6" y="418.8" width="25.8" height="47.5" fill="#5a9bc8"/>
<path d="M455.95 466.3V419.15H481.05V466.3" fill="none" stroke="#437fb0" stroke-width="0.7"/>
<rect x="455.6" y="460" width="25.8" height="6.3" fill="#a6d7cd"/>
<rect x="487.8" y="380.1" width="25.8" height="86.2" fill="#5a9bc8"/>
<path d="M488.15 466.3V380.45H513.25V466.3" fill="none" stroke="#437fb0" stroke-width="0.7"/>
<rect x="487.8" y="451.9" width="25.8" height="14.4" fill="#a6d7cd"/>
<rect x="520.5" y="317.7" width="25.8" height="148.6" fill="#5a9bc8"/>
<path d="M520.85 466.3V318.05H545.95V466.3" fill="none" stroke="#437fb0" stroke-width="0.7"/>
<rect x="520.5" y="444.9" width="25.8" height="21.4" fill="#a6d7cd"/>
<path d="M371.3 456.3V463.2M369 456.3H373.6M369 463.2H373.6" stroke="#222" stroke-width="1.1" fill="none"/>
<path d="M403.9 434.9V444.5M401.6 434.9H406.2M401.6 444.5H406.2" stroke="#222" stroke-width="1.1" fill="none"/>
<path d="M436.2 408.2V426M433.9 408.2H438.5M433.9 426H438.5" stroke="#222" stroke-width="1.1" fill="none"/>
<path d="M468.5 415.4V421.9M466.2 415.4H470.8M466.2 421.9H470.8" stroke="#222" stroke-width="1.1" fill="none"/>
<path d="M500.7 369.1V391.3M498.4 369.1H503M498.4 391.3H503" stroke="#222" stroke-width="1.1" fill="none"/>
<path d="M533.4 291.4V343.4M531.1 291.4H535.7M531.1 343.4H535.7" stroke="#222" stroke-width="1.1" fill="none"/>
<path d="M371.3 461.6V462.6M369 461.6H373.6M369 462.6H373.6" stroke="#222" stroke-width="1.1" fill="none"/>
<path d="M403.9 462.4V463.4M401.6 462.4H406.2M401.6 463.4H406.2" stroke="#222" stroke-width="1.1" fill="none"/>
<path d="M436.2 459.2V460.8M433.9 459.2H438.5M433.9 460.8H438.5" stroke="#222" stroke-width="1.1" fill="none"/>
<path d="M468.5 459V461.5M466.2 459H470.8M466.2 461.5H470.8" stroke="#222" stroke-width="1.1" fill="none"/>
<path d="M500.7 450.2V453.5M498.4 450.2H503M498.4 453.5H503" stroke="#222" stroke-width="1.1" fill="none"/>
<path d="M533.4 441.5V447.5M531.1 441.5H535.7M531.1 447.5H535.7" stroke="#222" stroke-width="1.1" fill="none"/>
<line x1="332.8" y1="278.2" x2="332.8" y2="469.2" stroke="#222" stroke-width="1.3"/>
<line x1="329.3" y1="467" x2="332.8" y2="467" stroke="#222" stroke-width="1.3"/>
<text x="326.4" y="470.2" font-size="8.05" text-anchor="end">0</text>
<line x1="330.2" y1="462.3" x2="332.8" y2="462.3" stroke="#222" stroke-width="1.3"/>
<line x1="330.2" y1="457.59" x2="332.8" y2="457.59" stroke="#222" stroke-width="1.3"/>
<line x1="330.2" y1="452.88" x2="332.8" y2="452.88" stroke="#222" stroke-width="1.3"/>
<line x1="330.2" y1="448.18" x2="332.8" y2="448.18" stroke="#222" stroke-width="1.3"/>
<line x1="329.3" y1="443.48" x2="332.8" y2="443.48" stroke="#222" stroke-width="1.3"/>
<text x="326.4" y="446.68" font-size="8.05" text-anchor="end">500</text>
<line x1="330.2" y1="438.77" x2="332.8" y2="438.77" stroke="#222" stroke-width="1.3"/>
<line x1="330.2" y1="434.06" x2="332.8" y2="434.06" stroke="#222" stroke-width="1.3"/>
<line x1="330.2" y1="429.36" x2="332.8" y2="429.36" stroke="#222" stroke-width="1.3"/>
<line x1="330.2" y1="424.65" x2="332.8" y2="424.65" stroke="#222" stroke-width="1.3"/>
<line x1="329.3" y1="419.95" x2="332.8" y2="419.95" stroke="#222" stroke-width="1.3"/>
<text x="326.4" y="423.15" font-size="8.05" text-anchor="end">1000</text>
<line x1="330.2" y1="415.25" x2="332.8" y2="415.25" stroke="#222" stroke-width="1.3"/>
<line x1="330.2" y1="410.54" x2="332.8" y2="410.54" stroke="#222" stroke-width="1.3"/>
<line x1="330.2" y1="405.84" x2="332.8" y2="405.84" stroke="#222" stroke-width="1.3"/>
<line x1="330.2" y1="401.13" x2="332.8" y2="401.13" stroke="#222" stroke-width="1.3"/>
<line x1="329.3" y1="396.43" x2="332.8" y2="396.43" stroke="#222" stroke-width="1.3"/>
<text x="326.4" y="399.62" font-size="8.05" text-anchor="end">1500</text>
<line x1="330.2" y1="391.72" x2="332.8" y2="391.72" stroke="#222" stroke-width="1.3"/>
<line x1="330.2" y1="387.01" x2="332.8" y2="387.01" stroke="#222" stroke-width="1.3"/>
<line x1="330.2" y1="382.31" x2="332.8" y2="382.31" stroke="#222" stroke-width="1.3"/>
<line x1="330.2" y1="377.61" x2="332.8" y2="377.61" stroke="#222" stroke-width="1.3"/>
<line x1="329.3" y1="372.9" x2="332.8" y2="372.9" stroke="#222" stroke-width="1.3"/>
<text x="326.4" y="376.1" font-size="8.05" text-anchor="end">2000</text>
<line x1="330.2" y1="368.19" x2="332.8" y2="368.19" stroke="#222" stroke-width="1.3"/>
<line x1="330.2" y1="363.49" x2="332.8" y2="363.49" stroke="#222" stroke-width="1.3"/>
<line x1="330.2" y1="358.78" x2="332.8" y2="358.78" stroke="#222" stroke-width="1.3"/>
<line x1="330.2" y1="354.08" x2="332.8" y2="354.08" stroke="#222" stroke-width="1.3"/>
<line x1="329.3" y1="349.38" x2="332.8" y2="349.38" stroke="#222" stroke-width="1.3"/>
<text x="326.4" y="352.57" font-size="8.05" text-anchor="end">2500</text>
<line x1="330.2" y1="344.67" x2="332.8" y2="344.67" stroke="#222" stroke-width="1.3"/>
<line x1="330.2" y1="339.97" x2="332.8" y2="339.97" stroke="#222" stroke-width="1.3"/>
<line x1="330.2" y1="335.26" x2="332.8" y2="335.26" stroke="#222" stroke-width="1.3"/>
<line x1="330.2" y1="330.56" x2="332.8" y2="330.56" stroke="#222" stroke-width="1.3"/>
<line x1="329.3" y1="325.85" x2="332.8" y2="325.85" stroke="#222" stroke-width="1.3"/>
<text x="326.4" y="329.05" font-size="8.05" text-anchor="end">3000</text>
<line x1="330.2" y1="321.14" x2="332.8" y2="321.14" stroke="#222" stroke-width="1.3"/>
<line x1="330.2" y1="316.44" x2="332.8" y2="316.44" stroke="#222" stroke-width="1.3"/>
<line x1="330.2" y1="311.74" x2="332.8" y2="311.74" stroke="#222" stroke-width="1.3"/>
<line x1="330.2" y1="307.03" x2="332.8" y2="307.03" stroke="#222" stroke-width="1.3"/>
<line x1="329.3" y1="302.32" x2="332.8" y2="302.32" stroke="#222" stroke-width="1.3"/>
<text x="326.4" y="305.52" font-size="8.05" text-anchor="end">3500</text>
<line x1="330.2" y1="297.62" x2="332.8" y2="297.62" stroke="#222" stroke-width="1.3"/>
<line x1="330.2" y1="292.91" x2="332.8" y2="292.91" stroke="#222" stroke-width="1.3"/>
<line x1="330.2" y1="288.21" x2="332.8" y2="288.21" stroke="#222" stroke-width="1.3"/>
<line x1="330.2" y1="283.5" x2="332.8" y2="283.5" stroke="#222" stroke-width="1.3"/>
<line x1="329.3" y1="278.8" x2="332.8" y2="278.8" stroke="#222" stroke-width="1.3"/>
<text x="326.4" y="282" font-size="8.05" text-anchor="end">4000</text>
<line x1="329.8" y1="467" x2="572" y2="467" stroke="#222" stroke-width="1.3"/>
<line x1="338.88" y1="467" x2="338.88" y2="469.7" stroke="#222" stroke-width="1.25"/>
<line x1="345.36" y1="467" x2="345.36" y2="469.7" stroke="#222" stroke-width="1.25"/>
<line x1="351.85" y1="467" x2="351.85" y2="469.7" stroke="#222" stroke-width="1.25"/>
<line x1="358.33" y1="467" x2="358.33" y2="469.7" stroke="#222" stroke-width="1.25"/>
<line x1="364.82" y1="467" x2="364.82" y2="469.7" stroke="#222" stroke-width="1.25"/>
<line x1="371.3" y1="467" x2="371.3" y2="470.6" stroke="#222" stroke-width="1.25"/>
<line x1="377.78" y1="467" x2="377.78" y2="469.7" stroke="#222" stroke-width="1.25"/>
<line x1="384.27" y1="467" x2="384.27" y2="469.7" stroke="#222" stroke-width="1.25"/>
<line x1="390.75" y1="467" x2="390.75" y2="469.7" stroke="#222" stroke-width="1.25"/>
<line x1="397.24" y1="467" x2="397.24" y2="469.7" stroke="#222" stroke-width="1.25"/>
<line x1="403.72" y1="467" x2="403.72" y2="470.6" stroke="#222" stroke-width="1.25"/>
<line x1="410.2" y1="467" x2="410.2" y2="469.7" stroke="#222" stroke-width="1.25"/>
<line x1="416.69" y1="467" x2="416.69" y2="469.7" stroke="#222" stroke-width="1.25"/>
<line x1="423.17" y1="467" x2="423.17" y2="469.7" stroke="#222" stroke-width="1.25"/>
<line x1="429.66" y1="467" x2="429.66" y2="469.7" stroke="#222" stroke-width="1.25"/>
<line x1="436.14" y1="467" x2="436.14" y2="470.6" stroke="#222" stroke-width="1.25"/>
<line x1="442.62" y1="467" x2="442.62" y2="469.7" stroke="#222" stroke-width="1.25"/>
<line x1="449.11" y1="467" x2="449.11" y2="469.7" stroke="#222" stroke-width="1.25"/>
<line x1="455.59" y1="467" x2="455.59" y2="469.7" stroke="#222" stroke-width="1.25"/>
<line x1="462.08" y1="467" x2="462.08" y2="469.7" stroke="#222" stroke-width="1.25"/>
<line x1="468.56" y1="467" x2="468.56" y2="470.6" stroke="#222" stroke-width="1.25"/>
<line x1="475.04" y1="467" x2="475.04" y2="469.7" stroke="#222" stroke-width="1.25"/>
<line x1="481.53" y1="467" x2="481.53" y2="469.7" stroke="#222" stroke-width="1.25"/>
<line x1="488.01" y1="467" x2="488.01" y2="469.7" stroke="#222" stroke-width="1.25"/>
<line x1="494.5" y1="467" x2="494.5" y2="469.7" stroke="#222" stroke-width="1.25"/>
<line x1="500.98" y1="467" x2="500.98" y2="470.6" stroke="#222" stroke-width="1.25"/>
<line x1="507.46" y1="467" x2="507.46" y2="469.7" stroke="#222" stroke-width="1.25"/>
<line x1="513.95" y1="467" x2="513.95" y2="469.7" stroke="#222" stroke-width="1.25"/>
<line x1="520.43" y1="467" x2="520.43" y2="469.7" stroke="#222" stroke-width="1.25"/>
<line x1="526.92" y1="467" x2="526.92" y2="469.7" stroke="#222" stroke-width="1.25"/>
<line x1="533.4" y1="467" x2="533.4" y2="470.6" stroke="#222" stroke-width="1.25"/>
<line x1="539.88" y1="467" x2="539.88" y2="469.7" stroke="#222" stroke-width="1.25"/>
<line x1="546.37" y1="467" x2="546.37" y2="469.7" stroke="#222" stroke-width="1.25"/>
<line x1="552.85" y1="467" x2="552.85" y2="469.7" stroke="#222" stroke-width="1.25"/>
<line x1="559.34" y1="467" x2="559.34" y2="469.7" stroke="#222" stroke-width="1.25"/>
<line x1="565.82" y1="467" x2="565.82" y2="469.7" stroke="#222" stroke-width="1.25"/>
<line x1="572.3" y1="467" x2="572.3" y2="469.7" stroke="#222" stroke-width="1.25"/>
<text x="371.3" y="481.6" font-size="8.2" text-anchor="middle">P<tspan font-size="6.5" dy="4">0.25</tspan></text>
<text x="403.9" y="481.6" font-size="8.2" text-anchor="middle">P<tspan font-size="6.5" dy="4">0.35</tspan></text>
<text x="436.2" y="481.6" font-size="8.2" text-anchor="middle">P<tspan font-size="6.5" dy="4">0.45</tspan></text>
<text x="468.5" y="481.6" font-size="8.2" text-anchor="middle">IWP<tspan font-size="6.5" dy="4">0.25</tspan></text>
<text x="500.7" y="481.6" font-size="8.2" text-anchor="middle">IWP<tspan font-size="6.5" dy="4">0.35</tspan></text>
<text x="533.4" y="481.6" font-size="8.2" text-anchor="middle">IWP<tspan font-size="6.5" dy="4">0.45</tspan></text>
<text transform="translate(304.8 373.1) rotate(-90)" font-size="9" text-anchor="middle">Energy Absorption (kJ.m<tspan font-size="6.5" dy="-3.5">-3</tspan><tspan dy="3.5">)</tspan></text>
<text transform="translate(345.12 294.95) scale(0.8401 0.9738)" font-size="20.0" style="stroke:#111;stroke-width:0.55px">D</text>
<line x1="401.3" y1="362.1" x2="437.8" y2="362.1" stroke="#333" stroke-width="1.9" stroke-linecap="butt"/>
<polygon points="414.8,350.2 413.92,352.45 412.03,352.35 413.04,354.5 412.03,356.65 413.92,356.55 414.8,358.8 415.68,356.55 417.57,356.65 416.56,354.5 417.57,352.35 415.68,352.45" fill="#3a3a3a" stroke="#3a3a3a" stroke-width="0.5" stroke-linejoin="round"/>
<polygon points="423.3,350.2 422.42,352.45 420.53,352.35 421.54,354.5 420.53,356.65 422.42,356.55 423.3,358.8 424.18,356.55 426.07,356.65 425.06,354.5 426.07,352.35 424.18,352.45" fill="#3a3a3a" stroke="#3a3a3a" stroke-width="0.5" stroke-linejoin="round"/>
<line x1="368.3" y1="381.8" x2="438.9" y2="381.8" stroke="#333" stroke-width="1.9" stroke-linecap="butt"/>
<polygon points="391.1,370.6 390.22,372.85 388.33,372.75 389.34,374.9 388.33,377.05 390.22,376.95 391.1,379.2 391.98,376.95 393.87,377.05 392.86,374.9 393.87,372.75 391.98,372.85" fill="#3a3a3a" stroke="#3a3a3a" stroke-width="0.5" stroke-linejoin="round"/>
<polygon points="399.9,370.6 399.02,372.85 397.13,372.75 398.14,374.9 397.13,377.05 399.02,376.95 399.9,379.2 400.78,376.95 402.67,377.05 401.66,374.9 402.67,372.75 400.78,372.85" fill="#3a3a3a" stroke="#3a3a3a" stroke-width="0.5" stroke-linejoin="round"/>
<polygon points="408.7,370.6 407.82,372.85 405.93,372.75 406.94,374.9 405.93,377.05 407.82,376.95 408.7,379.2 409.58,376.95 411.47,377.05 410.46,374.9 411.47,372.75 409.58,372.85" fill="#3a3a3a" stroke="#3a3a3a" stroke-width="0.5" stroke-linejoin="round"/>
<polygon points="417.4,370.6 416.52,372.85 414.63,372.75 415.64,374.9 414.63,377.05 416.52,376.95 417.4,379.2 418.28,376.95 420.17,377.05 419.16,374.9 420.17,372.75 418.28,372.85" fill="#3a3a3a" stroke="#3a3a3a" stroke-width="0.5" stroke-linejoin="round"/>
<line x1="368.3" y1="399.8" x2="438.9" y2="399.8" stroke="#333" stroke-width="1.9" stroke-linecap="butt"/>
<path d="M403.1 390.25L403.1 396.95M400.2 391.93L406 395.28M400.2 395.28L406 391.93" stroke="#3a3a3a" stroke-width="1.15" stroke-linecap="butt"/>
<line x1="466.1" y1="341.6" x2="503" y2="341.6" stroke="#333" stroke-width="1.9" stroke-linecap="butt"/>
<polygon points="471,330.2 470.12,332.45 468.23,332.35 469.24,334.5 468.23,336.65 470.12,336.55 471,338.8 471.88,336.55 473.77,336.65 472.76,334.5 473.77,332.35 471.88,332.45" fill="#3a3a3a" stroke="#3a3a3a" stroke-width="0.5" stroke-linejoin="round"/>
<polygon points="479.6,330.2 478.72,332.45 476.83,332.35 477.84,334.5 476.83,336.65 478.72,336.55 479.6,338.8 480.48,336.55 482.37,336.65 481.36,334.5 482.37,332.35 480.48,332.45" fill="#3a3a3a" stroke="#3a3a3a" stroke-width="0.5" stroke-linejoin="round"/>
<polygon points="488.3,330.2 487.42,332.45 485.53,332.35 486.54,334.5 485.53,336.65 487.42,336.55 488.3,338.8 489.18,336.55 491.07,336.65 490.06,334.5 491.07,332.35 489.18,332.45" fill="#3a3a3a" stroke="#3a3a3a" stroke-width="0.5" stroke-linejoin="round"/>
<polygon points="496.9,330.2 496.02,332.45 494.13,332.35 495.14,334.5 494.13,336.65 496.02,336.55 496.9,338.8 497.78,336.55 499.67,336.65 498.66,334.5 499.67,332.35 497.78,332.45" fill="#3a3a3a" stroke="#3a3a3a" stroke-width="0.5" stroke-linejoin="round"/>
<line x1="467.4" y1="361.7" x2="503.3" y2="361.7" stroke="#333" stroke-width="1.9" stroke-linecap="butt"/>
<path d="M484.9 352.15L484.9 358.85M482 353.82L487.8 357.18M482 357.18L487.8 353.82" stroke="#3a3a3a" stroke-width="1.15" stroke-linecap="butt"/>
<path d="M476.9 265.7H485.5M481.2 262.55V268.85" stroke="#333" stroke-width="1.5"/>
<path d="M490.2 265.7H498.8M494.5 262.55V268.85" stroke="#333" stroke-width="1.5"/>
<path d="M503.1 265.7H511.7M507.4 262.55V268.85" stroke="#333" stroke-width="1.5"/>
<path d="M516.6 265.7H525.2M520.9 262.55V268.85" stroke="#333" stroke-width="1.5"/>
<line x1="464.1" y1="271.4" x2="535.2" y2="271.4" stroke="#333" stroke-width="1.9" stroke-linecap="butt"/>
<path d="M490.7 279.2H499.3M495 276.05V282.35" stroke="#333" stroke-width="1.5"/>
<path d="M504 279.2H512.6M508.3 276.05V282.35" stroke="#333" stroke-width="1.5"/>
<path d="M517.1 279.2H525.7M521.4 276.05V282.35" stroke="#333" stroke-width="1.5"/>
<path d="M530.9 279.2H539.5M535.2 276.05V282.35" stroke="#333" stroke-width="1.5"/>
<line x1="497.6" y1="284.9" x2="534.4" y2="284.9" stroke="#333" stroke-width="1.9" stroke-linecap="butt"/>
<rect x="63.2" y="699.8" width="26" height="27.1" fill="#93a8b6"/>
<path d="M63.55 726.9V700.15H88.85V726.9" fill="none" stroke="#7b91a1" stroke-width="0.7"/>
<rect x="96" y="672.2" width="26" height="54.7" fill="#93a8b6"/>
<path d="M96.35 726.9V672.55H121.65V726.9" fill="none" stroke="#7b91a1" stroke-width="0.7"/>
<rect x="129" y="639" width="26" height="87.9" fill="#93a8b6"/>
<path d="M129.35 726.9V639.35H154.65V726.9" fill="none" stroke="#7b91a1" stroke-width="0.7"/>
<rect x="161.5" y="697" width="26" height="29.9" fill="#93a8b6"/>
<path d="M161.85 726.9V697.35H187.15V726.9" fill="none" stroke="#7b91a1" stroke-width="0.7"/>
<rect x="194.3" y="663.2" width="26" height="63.7" fill="#93a8b6"/>
<path d="M194.65 726.9V663.55H219.95V726.9" fill="none" stroke="#7b91a1" stroke-width="0.7"/>
<rect x="227.2" y="575.1" width="26" height="151.8" fill="#93a8b6"/>
<path d="M227.55 726.9V575.45H252.85V726.9" fill="none" stroke="#7b91a1" stroke-width="0.7"/>
<path d="M76.2 697.4V701.5M73.9 697.4H78.5M73.9 701.5H78.5" stroke="#222" stroke-width="1.1" fill="none"/>
<path d="M109 664.5V679.4M106.7 664.5H111.3M106.7 679.4H111.3" stroke="#222" stroke-width="1.1" fill="none"/>
<path d="M142 625.7V651.7M139.7 625.7H144.3M139.7 651.7H144.3" stroke="#222" stroke-width="1.1" fill="none"/>
<path d="M174.5 692.7V700.5M172.2 692.7H176.8M172.2 700.5H176.8" stroke="#222" stroke-width="1.1" fill="none"/>
<path d="M207.3 652.9V672.9M205 652.9H209.6M205 672.9H209.6" stroke="#222" stroke-width="1.1" fill="none"/>
<path d="M240.2 553.9V596.6M237.9 553.9H242.5M237.9 596.6H242.5" stroke="#222" stroke-width="1.1" fill="none"/>
<line x1="37.4" y1="536.7" x2="37.4" y2="729.8" stroke="#222" stroke-width="1.3"/>
<line x1="33.9" y1="727.6" x2="37.4" y2="727.6" stroke="#222" stroke-width="1.3"/>
<text x="31" y="730.8" font-size="8.05" text-anchor="end">0</text>
<line x1="34.8" y1="719.67" x2="37.4" y2="719.67" stroke="#222" stroke-width="1.3"/>
<line x1="34.8" y1="711.74" x2="37.4" y2="711.74" stroke="#222" stroke-width="1.3"/>
<line x1="34.8" y1="703.81" x2="37.4" y2="703.81" stroke="#222" stroke-width="1.3"/>
<line x1="33.9" y1="695.88" x2="37.4" y2="695.88" stroke="#222" stroke-width="1.3"/>
<text x="31" y="699.08" font-size="8.05" text-anchor="end">200</text>
<line x1="34.8" y1="687.95" x2="37.4" y2="687.95" stroke="#222" stroke-width="1.3"/>
<line x1="34.8" y1="680.02" x2="37.4" y2="680.02" stroke="#222" stroke-width="1.3"/>
<line x1="34.8" y1="672.1" x2="37.4" y2="672.1" stroke="#222" stroke-width="1.3"/>
<line x1="33.9" y1="664.17" x2="37.4" y2="664.17" stroke="#222" stroke-width="1.3"/>
<text x="31" y="667.37" font-size="8.05" text-anchor="end">400</text>
<line x1="34.8" y1="656.24" x2="37.4" y2="656.24" stroke="#222" stroke-width="1.3"/>
<line x1="34.8" y1="648.31" x2="37.4" y2="648.31" stroke="#222" stroke-width="1.3"/>
<line x1="34.8" y1="640.38" x2="37.4" y2="640.38" stroke="#222" stroke-width="1.3"/>
<line x1="33.9" y1="632.45" x2="37.4" y2="632.45" stroke="#222" stroke-width="1.3"/>
<text x="31" y="635.65" font-size="8.05" text-anchor="end">600</text>
<line x1="34.8" y1="624.52" x2="37.4" y2="624.52" stroke="#222" stroke-width="1.3"/>
<line x1="34.8" y1="616.59" x2="37.4" y2="616.59" stroke="#222" stroke-width="1.3"/>
<line x1="34.8" y1="608.66" x2="37.4" y2="608.66" stroke="#222" stroke-width="1.3"/>
<line x1="33.9" y1="600.73" x2="37.4" y2="600.73" stroke="#222" stroke-width="1.3"/>
<text x="31" y="603.93" font-size="8.05" text-anchor="end">800</text>
<line x1="34.8" y1="592.8" x2="37.4" y2="592.8" stroke="#222" stroke-width="1.3"/>
<line x1="34.8" y1="584.88" x2="37.4" y2="584.88" stroke="#222" stroke-width="1.3"/>
<line x1="34.8" y1="576.95" x2="37.4" y2="576.95" stroke="#222" stroke-width="1.3"/>
<line x1="33.9" y1="569.02" x2="37.4" y2="569.02" stroke="#222" stroke-width="1.3"/>
<text x="31" y="572.22" font-size="8.05" text-anchor="end">1000</text>
<line x1="34.8" y1="561.09" x2="37.4" y2="561.09" stroke="#222" stroke-width="1.3"/>
<line x1="34.8" y1="553.16" x2="37.4" y2="553.16" stroke="#222" stroke-width="1.3"/>
<line x1="34.8" y1="545.23" x2="37.4" y2="545.23" stroke="#222" stroke-width="1.3"/>
<line x1="33.9" y1="537.3" x2="37.4" y2="537.3" stroke="#222" stroke-width="1.3"/>
<text x="31" y="540.5" font-size="8.05" text-anchor="end">1200</text>
<line x1="34.4" y1="727.6" x2="279.3" y2="727.6" stroke="#222" stroke-width="1.3"/>
<line x1="43.4" y1="727.6" x2="43.4" y2="730.3" stroke="#222" stroke-width="1.25"/>
<line x1="49.96" y1="727.6" x2="49.96" y2="730.3" stroke="#222" stroke-width="1.25"/>
<line x1="56.52" y1="727.6" x2="56.52" y2="730.3" stroke="#222" stroke-width="1.25"/>
<line x1="63.08" y1="727.6" x2="63.08" y2="730.3" stroke="#222" stroke-width="1.25"/>
<line x1="69.64" y1="727.6" x2="69.64" y2="730.3" stroke="#222" stroke-width="1.25"/>
<line x1="76.2" y1="727.6" x2="76.2" y2="731.2" stroke="#222" stroke-width="1.25"/>
<line x1="82.76" y1="727.6" x2="82.76" y2="730.3" stroke="#222" stroke-width="1.25"/>
<line x1="89.32" y1="727.6" x2="89.32" y2="730.3" stroke="#222" stroke-width="1.25"/>
<line x1="95.88" y1="727.6" x2="95.88" y2="730.3" stroke="#222" stroke-width="1.25"/>
<line x1="102.44" y1="727.6" x2="102.44" y2="730.3" stroke="#222" stroke-width="1.25"/>
<line x1="109" y1="727.6" x2="109" y2="731.2" stroke="#222" stroke-width="1.25"/>
<line x1="115.56" y1="727.6" x2="115.56" y2="730.3" stroke="#222" stroke-width="1.25"/>
<line x1="122.12" y1="727.6" x2="122.12" y2="730.3" stroke="#222" stroke-width="1.25"/>
<line x1="128.68" y1="727.6" x2="128.68" y2="730.3" stroke="#222" stroke-width="1.25"/>
<line x1="135.24" y1="727.6" x2="135.24" y2="730.3" stroke="#222" stroke-width="1.25"/>
<line x1="141.8" y1="727.6" x2="141.8" y2="731.2" stroke="#222" stroke-width="1.25"/>
<line x1="148.36" y1="727.6" x2="148.36" y2="730.3" stroke="#222" stroke-width="1.25"/>
<line x1="154.92" y1="727.6" x2="154.92" y2="730.3" stroke="#222" stroke-width="1.25"/>
<line x1="161.48" y1="727.6" x2="161.48" y2="730.3" stroke="#222" stroke-width="1.25"/>
<line x1="168.04" y1="727.6" x2="168.04" y2="730.3" stroke="#222" stroke-width="1.25"/>
<line x1="174.6" y1="727.6" x2="174.6" y2="731.2" stroke="#222" stroke-width="1.25"/>
<line x1="181.16" y1="727.6" x2="181.16" y2="730.3" stroke="#222" stroke-width="1.25"/>
<line x1="187.72" y1="727.6" x2="187.72" y2="730.3" stroke="#222" stroke-width="1.25"/>
<line x1="194.28" y1="727.6" x2="194.28" y2="730.3" stroke="#222" stroke-width="1.25"/>
<line x1="200.84" y1="727.6" x2="200.84" y2="730.3" stroke="#222" stroke-width="1.25"/>
<line x1="207.4" y1="727.6" x2="207.4" y2="731.2" stroke="#222" stroke-width="1.25"/>
<line x1="213.96" y1="727.6" x2="213.96" y2="730.3" stroke="#222" stroke-width="1.25"/>
<line x1="220.52" y1="727.6" x2="220.52" y2="730.3" stroke="#222" stroke-width="1.25"/>
<line x1="227.08" y1="727.6" x2="227.08" y2="730.3" stroke="#222" stroke-width="1.25"/>
<line x1="233.64" y1="727.6" x2="233.64" y2="730.3" stroke="#222" stroke-width="1.25"/>
<line x1="240.2" y1="727.6" x2="240.2" y2="731.2" stroke="#222" stroke-width="1.25"/>
<line x1="246.76" y1="727.6" x2="246.76" y2="730.3" stroke="#222" stroke-width="1.25"/>
<line x1="253.32" y1="727.6" x2="253.32" y2="730.3" stroke="#222" stroke-width="1.25"/>
<line x1="259.88" y1="727.6" x2="259.88" y2="730.3" stroke="#222" stroke-width="1.25"/>
<line x1="266.44" y1="727.6" x2="266.44" y2="730.3" stroke="#222" stroke-width="1.25"/>
<line x1="273" y1="727.6" x2="273" y2="730.3" stroke="#222" stroke-width="1.25"/>
<line x1="279.56" y1="727.6" x2="279.56" y2="730.3" stroke="#222" stroke-width="1.25"/>
<text x="76.2" y="742.6" font-size="8.2" text-anchor="middle">P<tspan font-size="6.5" dy="4">0.25</tspan></text>
<text x="109" y="742.6" font-size="8.2" text-anchor="middle">P<tspan font-size="6.5" dy="4">0.35</tspan></text>
<text x="142" y="742.6" font-size="8.2" text-anchor="middle">P<tspan font-size="6.5" dy="4">0.45</tspan></text>
<text x="174.5" y="742.6" font-size="8.2" text-anchor="middle">IWP<tspan font-size="6.5" dy="4">0.25</tspan></text>
<text x="207.3" y="742.6" font-size="8.2" text-anchor="middle">IWP<tspan font-size="6.5" dy="4">0.35</tspan></text>
<text x="240.2" y="742.6" font-size="8.2" text-anchor="middle">IWP<tspan font-size="6.5" dy="4">0.45</tspan></text>
<text transform="translate(9.2 632.35) rotate(-90)" font-size="9.1" text-anchor="middle">Flexural Stiffness (N/mm)</text>
<text transform="translate(52.18 544.25) scale(0.8021 1.0029)" font-size="20.0" style="stroke:#111;stroke-width:0.55px">E</text>
<line x1="108.2" y1="589.6" x2="144.2" y2="589.6" stroke="#333" stroke-width="1.9" stroke-linecap="butt"/>
<path d="M125.7 579.9L125.7 586.7M122.76 581.6L128.64 585M122.76 585L128.64 581.6" stroke="#3a3a3a" stroke-width="1.15" stroke-linecap="butt"/>
<line x1="72.7" y1="609.8" x2="144.2" y2="609.8" stroke="#333" stroke-width="1.9" stroke-linecap="butt"/>
<path d="M94.1 599.8L94.1 606.6M91.16 601.5L97.04 604.9M91.16 604.9L97.04 601.5" stroke="#3a3a3a" stroke-width="1.15" stroke-linecap="butt"/>
<path d="M103 599.8L103 606.6M100.06 601.5L105.94 604.9M100.06 604.9L105.94 601.5" stroke="#3a3a3a" stroke-width="1.15" stroke-linecap="butt"/>
<path d="M112.2 599.8L112.2 606.6M109.26 601.5L115.14 604.9M109.26 604.9L115.14 601.5" stroke="#3a3a3a" stroke-width="1.15" stroke-linecap="butt"/>
<path d="M121.1 599.8L121.1 606.6M118.16 601.5L124.04 604.9M118.16 604.9L124.04 601.5" stroke="#3a3a3a" stroke-width="1.15" stroke-linecap="butt"/>
<line x1="170.2" y1="531.5" x2="242.2" y2="531.5" stroke="#333" stroke-width="1.9" stroke-linecap="butt"/>
<path d="M192 521.8L192 528.6M189.06 523.5L194.94 526.9M189.06 526.9L194.94 523.5" stroke="#3a3a3a" stroke-width="1.15" stroke-linecap="butt"/>
<path d="M201.2 521.8L201.2 528.6M198.26 523.5L204.14 526.9M198.26 526.9L204.14 523.5" stroke="#3a3a3a" stroke-width="1.15" stroke-linecap="butt"/>
<path d="M210.4 521.8L210.4 528.6M207.46 523.5L213.34 526.9M207.46 526.9L213.34 523.5" stroke="#3a3a3a" stroke-width="1.15" stroke-linecap="butt"/>
<path d="M219.6 521.8L219.6 528.6M216.66 523.5L222.54 526.9M216.66 526.9L222.54 523.5" stroke="#3a3a3a" stroke-width="1.15" stroke-linecap="butt"/>
<line x1="204.2" y1="548.5" x2="242" y2="548.5" stroke="#333" stroke-width="1.9" stroke-linecap="butt"/>
<path d="M208.5 539L208.5 545.8M205.56 540.7L211.44 544.1M205.56 544.1L211.44 540.7" stroke="#3a3a3a" stroke-width="1.15" stroke-linecap="butt"/>
<path d="M217.9 539L217.9 545.8M214.96 540.7L220.84 544.1M214.96 544.1L220.84 540.7" stroke="#3a3a3a" stroke-width="1.15" stroke-linecap="butt"/>
<path d="M227.2 539L227.2 545.8M224.26 540.7L230.14 544.1M224.26 544.1L230.14 540.7" stroke="#3a3a3a" stroke-width="1.15" stroke-linecap="butt"/>
<path d="M236.6 539L236.6 545.8M233.66 540.7L239.54 544.1M233.66 544.1L239.54 540.7" stroke="#3a3a3a" stroke-width="1.15" stroke-linecap="butt"/>
<line x1="170" y1="614.2" x2="206.6" y2="614.2" stroke="#333" stroke-width="1.9" stroke-linecap="butt"/>
<path d="M184.3 604.7L184.3 611.5M181.36 606.4L187.24 609.8M181.36 609.8L187.24 606.4" stroke="#3a3a3a" stroke-width="1.15" stroke-linecap="butt"/>
<path d="M193.7 604.7L193.7 611.5M190.76 606.4L196.64 609.8M190.76 609.8L196.64 606.4" stroke="#3a3a3a" stroke-width="1.15" stroke-linecap="butt"/>
<rect x="355.6" y="683" width="26.8" height="45.2" fill="#93a8b6"/>
<path d="M355.95 728.2V683.35H382.05V728.2" fill="none" stroke="#7b91a1" stroke-width="0.7"/>
<rect x="389.4" y="658.5" width="26.8" height="69.7" fill="#93a8b6"/>
<path d="M389.75 728.2V658.85H415.85V728.2" fill="none" stroke="#7b91a1" stroke-width="0.7"/>
<rect x="423.2" y="633.2" width="26.8" height="95" fill="#93a8b6"/>
<path d="M423.55 728.2V633.55H449.65V728.2" fill="none" stroke="#7b91a1" stroke-width="0.7"/>
<rect x="456.8" y="671.6" width="26.8" height="56.6" fill="#93a8b6"/>
<path d="M457.15 728.2V671.95H483.25V728.2" fill="none" stroke="#7b91a1" stroke-width="0.7"/>
<rect x="490.8" y="641.2" width="26.8" height="87" fill="#93a8b6"/>
<path d="M491.15 728.2V641.55H517.25V728.2" fill="none" stroke="#7b91a1" stroke-width="0.7"/>
<rect x="524.8" y="564.2" width="26.8" height="164" fill="#93a8b6"/>
<path d="M525.15 728.2V564.55H551.25V728.2" fill="none" stroke="#7b91a1" stroke-width="0.7"/>
<path d="M369 680.6V684.7M366.7 680.6H371.3M366.7 684.7H371.3" stroke="#222" stroke-width="1.1" fill="none"/>
<path d="M402.8 649.3V668.1M400.5 649.3H405.1M400.5 668.1H405.1" stroke="#222" stroke-width="1.1" fill="none"/>
<path d="M436.6 628.1V638M434.3 628.1H438.9M434.3 638H438.9" stroke="#222" stroke-width="1.1" fill="none"/>
<path d="M470.2 664.6V678.6M467.9 664.6H472.5M467.9 678.6H472.5" stroke="#222" stroke-width="1.1" fill="none"/>
<path d="M504.2 631.7V650.5M501.9 631.7H506.5M501.9 650.5H506.5" stroke="#222" stroke-width="1.1" fill="none"/>
<path d="M538.2 545.4V582.5M535.9 545.4H540.5M535.9 582.5H540.5" stroke="#222" stroke-width="1.1" fill="none"/>
<line x1="328.4" y1="531.5" x2="328.4" y2="731.1" stroke="#222" stroke-width="1.3"/>
<line x1="324.9" y1="728.9" x2="328.4" y2="728.9" stroke="#222" stroke-width="1.3"/>
<text x="322" y="732.1" font-size="8.05" text-anchor="end">0</text>
<line x1="325.8" y1="724.53" x2="328.4" y2="724.53" stroke="#222" stroke-width="1.3"/>
<line x1="325.8" y1="720.15" x2="328.4" y2="720.15" stroke="#222" stroke-width="1.3"/>
<line x1="325.8" y1="715.78" x2="328.4" y2="715.78" stroke="#222" stroke-width="1.3"/>
<line x1="325.8" y1="711.41" x2="328.4" y2="711.41" stroke="#222" stroke-width="1.3"/>
<line x1="324.9" y1="707.03" x2="328.4" y2="707.03" stroke="#222" stroke-width="1.3"/>
<text x="322" y="710.23" font-size="8.05" text-anchor="end">10</text>
<line x1="325.8" y1="702.66" x2="328.4" y2="702.66" stroke="#222" stroke-width="1.3"/>
<line x1="325.8" y1="698.29" x2="328.4" y2="698.29" stroke="#222" stroke-width="1.3"/>
<line x1="325.8" y1="693.91" x2="328.4" y2="693.91" stroke="#222" stroke-width="1.3"/>
<line x1="325.8" y1="689.54" x2="328.4" y2="689.54" stroke="#222" stroke-width="1.3"/>
<line x1="324.9" y1="685.17" x2="328.4" y2="685.17" stroke="#222" stroke-width="1.3"/>
<text x="322" y="688.37" font-size="8.05" text-anchor="end">20</text>
<line x1="325.8" y1="680.79" x2="328.4" y2="680.79" stroke="#222" stroke-width="1.3"/>
<line x1="325.8" y1="676.42" x2="328.4" y2="676.42" stroke="#222" stroke-width="1.3"/>
<line x1="325.8" y1="672.05" x2="328.4" y2="672.05" stroke="#222" stroke-width="1.3"/>
<line x1="325.8" y1="667.67" x2="328.4" y2="667.67" stroke="#222" stroke-width="1.3"/>
<line x1="324.9" y1="663.3" x2="328.4" y2="663.3" stroke="#222" stroke-width="1.3"/>
<text x="322" y="666.5" font-size="8.05" text-anchor="end">30</text>
<line x1="325.8" y1="658.93" x2="328.4" y2="658.93" stroke="#222" stroke-width="1.3"/>
<line x1="325.8" y1="654.55" x2="328.4" y2="654.55" stroke="#222" stroke-width="1.3"/>
<line x1="325.8" y1="650.18" x2="328.4" y2="650.18" stroke="#222" stroke-width="1.3"/>
<line x1="325.8" y1="645.81" x2="328.4" y2="645.81" stroke="#222" stroke-width="1.3"/>
<line x1="324.9" y1="641.43" x2="328.4" y2="641.43" stroke="#222" stroke-width="1.3"/>
<text x="322" y="644.63" font-size="8.05" text-anchor="end">40</text>
<line x1="325.8" y1="637.06" x2="328.4" y2="637.06" stroke="#222" stroke-width="1.3"/>
<line x1="325.8" y1="632.69" x2="328.4" y2="632.69" stroke="#222" stroke-width="1.3"/>
<line x1="325.8" y1="628.31" x2="328.4" y2="628.31" stroke="#222" stroke-width="1.3"/>
<line x1="325.8" y1="623.94" x2="328.4" y2="623.94" stroke="#222" stroke-width="1.3"/>
<line x1="324.9" y1="619.57" x2="328.4" y2="619.57" stroke="#222" stroke-width="1.3"/>
<text x="322" y="622.77" font-size="8.05" text-anchor="end">50</text>
<line x1="325.8" y1="615.19" x2="328.4" y2="615.19" stroke="#222" stroke-width="1.3"/>
<line x1="325.8" y1="610.82" x2="328.4" y2="610.82" stroke="#222" stroke-width="1.3"/>
<line x1="325.8" y1="606.45" x2="328.4" y2="606.45" stroke="#222" stroke-width="1.3"/>
<line x1="325.8" y1="602.07" x2="328.4" y2="602.07" stroke="#222" stroke-width="1.3"/>
<line x1="324.9" y1="597.7" x2="328.4" y2="597.7" stroke="#222" stroke-width="1.3"/>
<text x="322" y="600.9" font-size="8.05" text-anchor="end">60</text>
<line x1="325.8" y1="593.33" x2="328.4" y2="593.33" stroke="#222" stroke-width="1.3"/>
<line x1="325.8" y1="588.95" x2="328.4" y2="588.95" stroke="#222" stroke-width="1.3"/>
<line x1="325.8" y1="584.58" x2="328.4" y2="584.58" stroke="#222" stroke-width="1.3"/>
<line x1="325.8" y1="580.21" x2="328.4" y2="580.21" stroke="#222" stroke-width="1.3"/>
<line x1="324.9" y1="575.83" x2="328.4" y2="575.83" stroke="#222" stroke-width="1.3"/>
<text x="322" y="579.03" font-size="8.05" text-anchor="end">70</text>
<line x1="325.8" y1="571.46" x2="328.4" y2="571.46" stroke="#222" stroke-width="1.3"/>
<line x1="325.8" y1="567.09" x2="328.4" y2="567.09" stroke="#222" stroke-width="1.3"/>
<line x1="325.8" y1="562.71" x2="328.4" y2="562.71" stroke="#222" stroke-width="1.3"/>
<line x1="325.8" y1="558.34" x2="328.4" y2="558.34" stroke="#222" stroke-width="1.3"/>
<line x1="324.9" y1="553.97" x2="328.4" y2="553.97" stroke="#222" stroke-width="1.3"/>
<text x="322" y="557.17" font-size="8.05" text-anchor="end">80</text>
<line x1="325.8" y1="549.59" x2="328.4" y2="549.59" stroke="#222" stroke-width="1.3"/>
<line x1="325.8" y1="545.22" x2="328.4" y2="545.22" stroke="#222" stroke-width="1.3"/>
<line x1="325.8" y1="540.85" x2="328.4" y2="540.85" stroke="#222" stroke-width="1.3"/>
<line x1="325.8" y1="536.47" x2="328.4" y2="536.47" stroke="#222" stroke-width="1.3"/>
<line x1="324.9" y1="532.1" x2="328.4" y2="532.1" stroke="#222" stroke-width="1.3"/>
<text x="322" y="535.3" font-size="8.05" text-anchor="end">90</text>
<line x1="325.4" y1="728.9" x2="578.7" y2="728.9" stroke="#222" stroke-width="1.3"/>
<line x1="335.16" y1="728.9" x2="335.16" y2="731.6" stroke="#222" stroke-width="1.25"/>
<line x1="341.93" y1="728.9" x2="341.93" y2="731.6" stroke="#222" stroke-width="1.25"/>
<line x1="348.7" y1="728.9" x2="348.7" y2="731.6" stroke="#222" stroke-width="1.25"/>
<line x1="355.46" y1="728.9" x2="355.46" y2="731.6" stroke="#222" stroke-width="1.25"/>
<line x1="362.23" y1="728.9" x2="362.23" y2="731.6" stroke="#222" stroke-width="1.25"/>
<line x1="369" y1="728.9" x2="369" y2="732.5" stroke="#222" stroke-width="1.25"/>
<line x1="375.77" y1="728.9" x2="375.77" y2="731.6" stroke="#222" stroke-width="1.25"/>
<line x1="382.54" y1="728.9" x2="382.54" y2="731.6" stroke="#222" stroke-width="1.25"/>
<line x1="389.3" y1="728.9" x2="389.3" y2="731.6" stroke="#222" stroke-width="1.25"/>
<line x1="396.07" y1="728.9" x2="396.07" y2="731.6" stroke="#222" stroke-width="1.25"/>
<line x1="402.84" y1="728.9" x2="402.84" y2="732.5" stroke="#222" stroke-width="1.25"/>
<line x1="409.61" y1="728.9" x2="409.61" y2="731.6" stroke="#222" stroke-width="1.25"/>
<line x1="416.38" y1="728.9" x2="416.38" y2="731.6" stroke="#222" stroke-width="1.25"/>
<line x1="423.14" y1="728.9" x2="423.14" y2="731.6" stroke="#222" stroke-width="1.25"/>
<line x1="429.91" y1="728.9" x2="429.91" y2="731.6" stroke="#222" stroke-width="1.25"/>
<line x1="436.68" y1="728.9" x2="436.68" y2="732.5" stroke="#222" stroke-width="1.25"/>
<line x1="443.45" y1="728.9" x2="443.45" y2="731.6" stroke="#222" stroke-width="1.25"/>
<line x1="450.22" y1="728.9" x2="450.22" y2="731.6" stroke="#222" stroke-width="1.25"/>
<line x1="456.98" y1="728.9" x2="456.98" y2="731.6" stroke="#222" stroke-width="1.25"/>
<line x1="463.75" y1="728.9" x2="463.75" y2="731.6" stroke="#222" stroke-width="1.25"/>
<line x1="470.52" y1="728.9" x2="470.52" y2="732.5" stroke="#222" stroke-width="1.25"/>
<line x1="477.29" y1="728.9" x2="477.29" y2="731.6" stroke="#222" stroke-width="1.25"/>
<line x1="484.06" y1="728.9" x2="484.06" y2="731.6" stroke="#222" stroke-width="1.25"/>
<line x1="490.82" y1="728.9" x2="490.82" y2="731.6" stroke="#222" stroke-width="1.25"/>
<line x1="497.59" y1="728.9" x2="497.59" y2="731.6" stroke="#222" stroke-width="1.25"/>
<line x1="504.36" y1="728.9" x2="504.36" y2="732.5" stroke="#222" stroke-width="1.25"/>
<line x1="511.13" y1="728.9" x2="511.13" y2="731.6" stroke="#222" stroke-width="1.25"/>
<line x1="517.9" y1="728.9" x2="517.9" y2="731.6" stroke="#222" stroke-width="1.25"/>
<line x1="524.66" y1="728.9" x2="524.66" y2="731.6" stroke="#222" stroke-width="1.25"/>
<line x1="531.43" y1="728.9" x2="531.43" y2="731.6" stroke="#222" stroke-width="1.25"/>
<line x1="538.2" y1="728.9" x2="538.2" y2="732.5" stroke="#222" stroke-width="1.25"/>
<line x1="544.97" y1="728.9" x2="544.97" y2="731.6" stroke="#222" stroke-width="1.25"/>
<line x1="551.74" y1="728.9" x2="551.74" y2="731.6" stroke="#222" stroke-width="1.25"/>
<line x1="558.5" y1="728.9" x2="558.5" y2="731.6" stroke="#222" stroke-width="1.25"/>
<line x1="565.27" y1="728.9" x2="565.27" y2="731.6" stroke="#222" stroke-width="1.25"/>
<line x1="572.04" y1="728.9" x2="572.04" y2="731.6" stroke="#222" stroke-width="1.25"/>
<line x1="578.81" y1="728.9" x2="578.81" y2="731.6" stroke="#222" stroke-width="1.25"/>
<text x="369" y="743.3" font-size="8.2" text-anchor="middle">P<tspan font-size="6.5" dy="4">0.25</tspan></text>
<text x="402.8" y="743.3" font-size="8.2" text-anchor="middle">P<tspan font-size="6.5" dy="4">0.35</tspan></text>
<text x="436.6" y="743.3" font-size="8.2" text-anchor="middle">P<tspan font-size="6.5" dy="4">0.45</tspan></text>
<text x="470.2" y="743.3" font-size="8.2" text-anchor="middle">IWP<tspan font-size="6.5" dy="4">0.25</tspan></text>
<text x="504.2" y="743.3" font-size="8.2" text-anchor="middle">IWP<tspan font-size="6.5" dy="4">0.35</tspan></text>
<text x="538.2" y="743.3" font-size="8.2" text-anchor="middle">IWP<tspan font-size="6.5" dy="4">0.45</tspan></text>
<text transform="translate(308.7 630) rotate(-90)" font-size="9.4" text-anchor="middle">Flexural Strength (MPa)</text>
<text transform="translate(345.08 545.35) scale(0.7988 0.9520)" font-size="20.0" style="stroke:#111;stroke-width:0.55px">F</text>
<line x1="400.5" y1="588.2" x2="437" y2="588.2" stroke="#333" stroke-width="1.9" stroke-linecap="butt"/>
<path d="M418 578.4L418 585.2M415.06 580.1L420.94 583.5M415.06 583.5L420.94 580.1" stroke="#3a3a3a" stroke-width="1.15" stroke-linecap="butt"/>
<line x1="363.8" y1="611.4" x2="437" y2="611.4" stroke="#333" stroke-width="1.9" stroke-linecap="butt"/>
<path d="M386.2 601.1L386.2 607.9M383.26 602.8L389.14 606.2M383.26 606.2L389.14 602.8" stroke="#3a3a3a" stroke-width="1.15" stroke-linecap="butt"/>
<path d="M395 601.1L395 607.9M392.06 602.8L397.94 606.2M392.06 606.2L397.94 602.8" stroke="#3a3a3a" stroke-width="1.15" stroke-linecap="butt"/>
<path d="M403.8 601.1L403.8 607.9M400.86 602.8L406.74 606.2M400.86 606.2L406.74 602.8" stroke="#3a3a3a" stroke-width="1.15" stroke-linecap="butt"/>
<path d="M412.6 601.1L412.6 607.9M409.66 602.8L415.54 606.2M409.66 606.2L415.54 602.8" stroke="#3a3a3a" stroke-width="1.15" stroke-linecap="butt"/>
<line x1="465.6" y1="522.9" x2="540" y2="522.9" stroke="#333" stroke-width="1.9" stroke-linecap="butt"/>
<path d="M487.8 513.2L487.8 520M484.86 514.9L490.74 518.3M484.86 518.3L490.74 514.9" stroke="#3a3a3a" stroke-width="1.15" stroke-linecap="butt"/>
<path d="M497.2 513.2L497.2 520M494.26 514.9L500.14 518.3M494.26 518.3L500.14 514.9" stroke="#3a3a3a" stroke-width="1.15" stroke-linecap="butt"/>
<path d="M506.7 513.2L506.7 520M503.76 514.9L509.64 518.3M503.76 518.3L509.64 514.9" stroke="#3a3a3a" stroke-width="1.15" stroke-linecap="butt"/>
<path d="M516.1 513.2L516.1 520M513.16 514.9L519.04 518.3M513.16 518.3L519.04 514.9" stroke="#3a3a3a" stroke-width="1.15" stroke-linecap="butt"/>
<line x1="500.5" y1="540.5" x2="539.5" y2="540.5" stroke="#333" stroke-width="1.9" stroke-linecap="butt"/>
<path d="M505.4 530.5L505.4 537.3M502.46 532.2L508.34 535.6M502.46 535.6L508.34 532.2" stroke="#3a3a3a" stroke-width="1.15" stroke-linecap="butt"/>
<path d="M514.8 530.5L514.8 537.3M511.86 532.2L517.74 535.6M511.86 535.6L517.74 532.2" stroke="#3a3a3a" stroke-width="1.15" stroke-linecap="butt"/>
<path d="M524.3 530.5L524.3 537.3M521.36 532.2L527.24 535.6M521.36 535.6L527.24 532.2" stroke="#3a3a3a" stroke-width="1.15" stroke-linecap="butt"/>
<path d="M533.7 530.5L533.7 537.3M530.76 532.2L536.64 535.6M530.76 535.6L536.64 532.2" stroke="#3a3a3a" stroke-width="1.15" stroke-linecap="butt"/>
<line x1="467.6" y1="610.5" x2="505.4" y2="610.5" stroke="#333" stroke-width="1.9" stroke-linecap="butt"/>
<path d="M482.3 601.3L482.3 608.1M479.36 603L485.24 606.4M479.36 606.4L485.24 603" stroke="#3a3a3a" stroke-width="1.15" stroke-linecap="butt"/>
<path d="M492.3 601.3L492.3 608.1M489.36 603L495.24 606.4M489.36 606.4L495.24 603" stroke="#3a3a3a" stroke-width="1.15" stroke-linecap="butt"/>
</svg>
</body></html>
